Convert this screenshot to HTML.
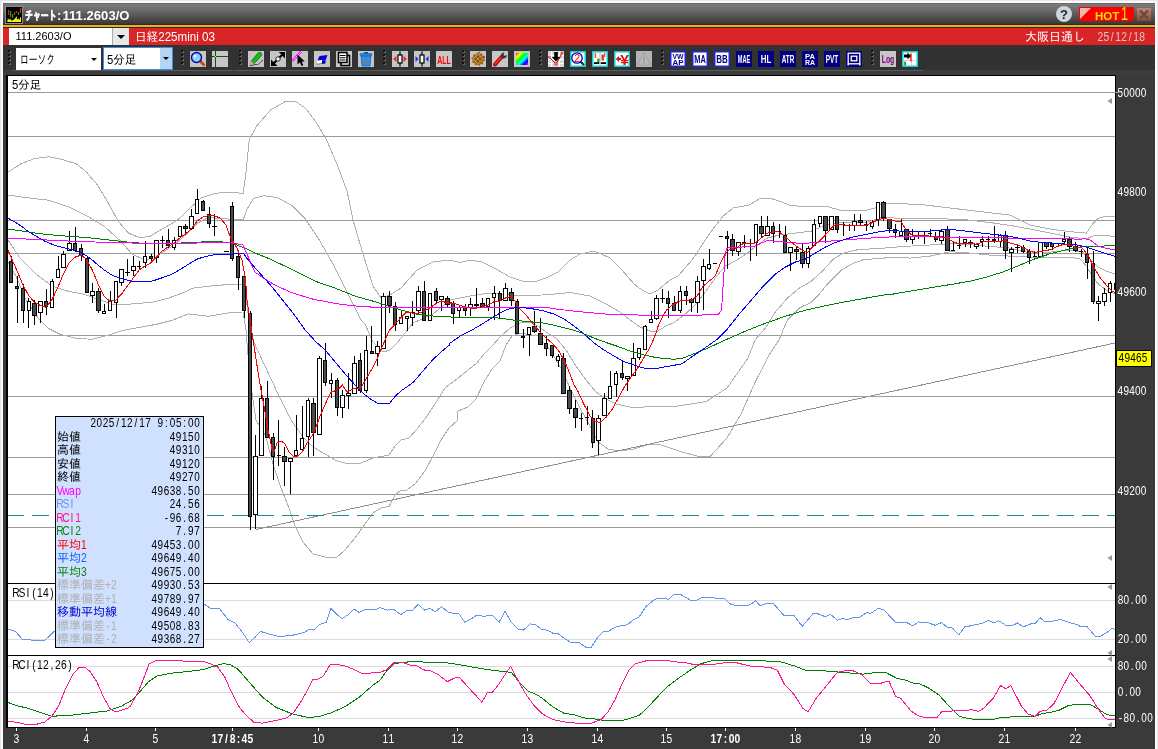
<!DOCTYPE html>
<html lang="ja"><head><meta charset="utf-8"><title>チャート:111.2603/O</title>
<style>html,body{margin:0;padding:0;background:#3a3a3a;overflow:hidden}svg{display:block}svg text{font-family:'Liberation Sans','IPAGothic',sans-serif}</style></head>
<body>
<svg width="1158" height="749" viewBox="0 0 1158 749">
<rect x="0" y="0" width="1158" height="749" fill="#e6e6e6" />
<rect x="1" y="1" width="1156" height="748" fill="#fafafa" />
<rect x="3" y="3" width="1152" height="746" fill="#3a3a3a" />
<rect x="3" y="3" width="1152" height="1" fill="#6a6a6a" />
<defs><linearGradient id="tg" x1="0" y1="0" x2="0" y2="1"><stop offset="0" stop-color="#7b7b7b"/><stop offset="0.3" stop-color="#6c6b69"/><stop offset="1" stop-color="#3a3836"/></linearGradient><linearGradient id="xg" x1="0" y1="0" x2="0" y2="1"><stop offset="0" stop-color="#c08870"/><stop offset="1" stop-color="#8a4a38"/></linearGradient><linearGradient id="rb" x1="0" y1="0" x2="1" y2="1"><stop offset="0" stop-color="#f00"/><stop offset="0.2" stop-color="#ff0"/><stop offset="0.4" stop-color="#0f0"/><stop offset="0.6" stop-color="#0ff"/><stop offset="0.8" stop-color="#00f"/><stop offset="1" stop-color="#f0f"/></linearGradient></defs>
<rect x="3" y="4" width="1152" height="20" fill="url(#tg)" />
<rect x="3" y="24" width="1152" height="1" fill="#2a2a30" />
<rect x="3" y="25" width="1152" height="2" fill="#f5ae12" />
<rect x="5" y="6" width="18" height="18" fill="#8c8c8c" />
<rect x="6" y="7" width="16" height="16" fill="#000" />
<rect x="8" y="10" width="1.2" height="5" fill="#e82020" />
<rect x="10" y="11" width="1.2" height="6" fill="#18a818" />
<rect x="12" y="14" width="1.2" height="4" fill="#18a818" />
<rect x="14" y="12" width="1.2" height="3" fill="#e82020" />
<rect x="16" y="11" width="1.2" height="2" fill="#e82020" />
<rect x="18" y="12" width="1.2" height="3" fill="#18a818" />
<rect x="20" y="8" width="1.2" height="5" fill="#e82020" />
<polygon points="7,22 7.5,20.5 8,18 9,20 10,18.5 11,20 12,20.8 13,20 14,19.5 15,18.5 16,17 16.6,16 17,19 18,19.5 18.6,18 19.3,20.5 20.3,17 21,17.5 21,22" fill="#f4f020"/>
<text x="25" y="19.6" fill="#fff" font-size="12.5" font-weight="bold" text-anchor="start" textLength="31.5" lengthAdjust="spacingAndGlyphs" stroke="#fff" stroke-width="0.5">チャート</text>
<text x="57" y="19.6" fill="#fff" font-size="13" font-weight="bold" text-anchor="start" >:</text>
<text x="62.5" y="20" fill="#fff" font-size="13.5" font-weight="bold" text-anchor="start" textLength="67" lengthAdjust="spacingAndGlyphs">111.2603/O</text>
<circle cx="1064" cy="14" r="8" fill="#d0d4dc"/>
<text x="1064" y="19" fill="#223" font-size="13" font-weight="bold" text-anchor="middle" >?</text>
<rect x="1079" y="7" width="55" height="14" fill="#ff0000" />
<polygon points="1080,8 1091,8 1080,19" fill="#f4b8a8"/>
<text x="1095" y="19.5" fill="#f0e000" font-size="11.5" font-weight="bold" text-anchor="start" >HOT</text>
<text x="1121" y="20.3" fill="#f0e000" font-size="19" font-weight="normal" text-anchor="start" textLength="7" lengthAdjust="spacingAndGlyphs">1</text>
<rect x="1137" y="8" width="14" height="13" fill="url(#xg)" />
<path d="M1140,10.5 L1148,18.5 M1148,10.5 L1140,18.5" stroke="#5a4a44" stroke-width="2.2" fill="none"/>
<rect x="3" y="27" width="1152" height="1" fill="#302828" />
<rect x="3" y="28" width="1152" height="17" fill="#d92525" />
<rect x="9" y="28" width="104" height="17" fill="#fff" />
<rect x="113" y="28" width="16" height="17" fill="#e8e8e8" />
<rect x="112" y="28" width="1" height="17" fill="#aaa" />
<polygon points="117,35 125,35 121,39" fill="#000"/>
<text x="15.5" y="40" fill="#000" font-size="11.5" font-weight="normal" text-anchor="start" textLength="56" lengthAdjust="spacingAndGlyphs">111.2603/O</text>
<text x="135" y="40.5" fill="#fff" font-size="12" font-weight="normal" text-anchor="start" textLength="80" lengthAdjust="spacingAndGlyphs">日経225mini 03</text>
<text x="1085" y="40.5" fill="#fff" font-size="12" font-weight="normal" text-anchor="end" textLength="60" lengthAdjust="spacingAndGlyphs">大阪日通し</text>
<text transform="translate(1097.4,40.5) scale(0.86,1)" x="3.46 10.38 17.30 24.22 31.13 38.05 44.97 51.89" y="0" fill="#e0c4c4" font-size="12" font-weight="normal" text-anchor="middle">25/12/18</text>
<rect x="3" y="45" width="1152" height="25" fill="#323232" />
<rect x="3" y="70" width="1152" height="5" fill="#3c3c3c" />
<rect x="12" y="70" width="221" height="1" fill="#5a5a5a" />
<rect x="235" y="70" width="688" height="1" fill="#5a5a5a" />
<rect x="8" y="50" width="2" height="2" fill="#0c0c0c" />
<rect x="9" y="51" width="2" height="2" fill="#666" />
<rect x="8" y="50" width="2" height="2" fill="#111" />
<rect x="8" y="54" width="2" height="2" fill="#0c0c0c" />
<rect x="9" y="55" width="2" height="2" fill="#666" />
<rect x="8" y="54" width="2" height="2" fill="#111" />
<rect x="8" y="58" width="2" height="2" fill="#0c0c0c" />
<rect x="9" y="59" width="2" height="2" fill="#666" />
<rect x="8" y="58" width="2" height="2" fill="#111" />
<rect x="8" y="62" width="2" height="2" fill="#0c0c0c" />
<rect x="9" y="63" width="2" height="2" fill="#666" />
<rect x="8" y="62" width="2" height="2" fill="#111" />
<rect x="181" y="50" width="2" height="2" fill="#0c0c0c" />
<rect x="182" y="51" width="2" height="2" fill="#666" />
<rect x="181" y="50" width="2" height="2" fill="#111" />
<rect x="181" y="54" width="2" height="2" fill="#0c0c0c" />
<rect x="182" y="55" width="2" height="2" fill="#666" />
<rect x="181" y="54" width="2" height="2" fill="#111" />
<rect x="181" y="58" width="2" height="2" fill="#0c0c0c" />
<rect x="182" y="59" width="2" height="2" fill="#666" />
<rect x="181" y="58" width="2" height="2" fill="#111" />
<rect x="181" y="62" width="2" height="2" fill="#0c0c0c" />
<rect x="182" y="63" width="2" height="2" fill="#666" />
<rect x="181" y="62" width="2" height="2" fill="#111" />
<rect x="239" y="50" width="2" height="2" fill="#0c0c0c" />
<rect x="240" y="51" width="2" height="2" fill="#666" />
<rect x="239" y="50" width="2" height="2" fill="#111" />
<rect x="239" y="54" width="2" height="2" fill="#0c0c0c" />
<rect x="240" y="55" width="2" height="2" fill="#666" />
<rect x="239" y="54" width="2" height="2" fill="#111" />
<rect x="239" y="58" width="2" height="2" fill="#0c0c0c" />
<rect x="240" y="59" width="2" height="2" fill="#666" />
<rect x="239" y="58" width="2" height="2" fill="#111" />
<rect x="239" y="62" width="2" height="2" fill="#0c0c0c" />
<rect x="240" y="63" width="2" height="2" fill="#666" />
<rect x="239" y="62" width="2" height="2" fill="#111" />
<rect x="383" y="50" width="2" height="2" fill="#0c0c0c" />
<rect x="384" y="51" width="2" height="2" fill="#666" />
<rect x="383" y="50" width="2" height="2" fill="#111" />
<rect x="383" y="54" width="2" height="2" fill="#0c0c0c" />
<rect x="384" y="55" width="2" height="2" fill="#666" />
<rect x="383" y="54" width="2" height="2" fill="#111" />
<rect x="383" y="58" width="2" height="2" fill="#0c0c0c" />
<rect x="384" y="59" width="2" height="2" fill="#666" />
<rect x="383" y="58" width="2" height="2" fill="#111" />
<rect x="383" y="62" width="2" height="2" fill="#0c0c0c" />
<rect x="384" y="63" width="2" height="2" fill="#666" />
<rect x="383" y="62" width="2" height="2" fill="#111" />
<rect x="462" y="50" width="2" height="2" fill="#0c0c0c" />
<rect x="463" y="51" width="2" height="2" fill="#666" />
<rect x="462" y="50" width="2" height="2" fill="#111" />
<rect x="462" y="54" width="2" height="2" fill="#0c0c0c" />
<rect x="463" y="55" width="2" height="2" fill="#666" />
<rect x="462" y="54" width="2" height="2" fill="#111" />
<rect x="462" y="58" width="2" height="2" fill="#0c0c0c" />
<rect x="463" y="59" width="2" height="2" fill="#666" />
<rect x="462" y="58" width="2" height="2" fill="#111" />
<rect x="462" y="62" width="2" height="2" fill="#0c0c0c" />
<rect x="463" y="63" width="2" height="2" fill="#666" />
<rect x="462" y="62" width="2" height="2" fill="#111" />
<rect x="539" y="50" width="2" height="2" fill="#0c0c0c" />
<rect x="540" y="51" width="2" height="2" fill="#666" />
<rect x="539" y="50" width="2" height="2" fill="#111" />
<rect x="539" y="54" width="2" height="2" fill="#0c0c0c" />
<rect x="540" y="55" width="2" height="2" fill="#666" />
<rect x="539" y="54" width="2" height="2" fill="#111" />
<rect x="539" y="58" width="2" height="2" fill="#0c0c0c" />
<rect x="540" y="59" width="2" height="2" fill="#666" />
<rect x="539" y="58" width="2" height="2" fill="#111" />
<rect x="539" y="62" width="2" height="2" fill="#0c0c0c" />
<rect x="540" y="63" width="2" height="2" fill="#666" />
<rect x="539" y="62" width="2" height="2" fill="#111" />
<rect x="661" y="50" width="2" height="2" fill="#0c0c0c" />
<rect x="662" y="51" width="2" height="2" fill="#666" />
<rect x="661" y="50" width="2" height="2" fill="#111" />
<rect x="661" y="54" width="2" height="2" fill="#0c0c0c" />
<rect x="662" y="55" width="2" height="2" fill="#666" />
<rect x="661" y="54" width="2" height="2" fill="#111" />
<rect x="661" y="58" width="2" height="2" fill="#0c0c0c" />
<rect x="662" y="59" width="2" height="2" fill="#666" />
<rect x="661" y="58" width="2" height="2" fill="#111" />
<rect x="661" y="62" width="2" height="2" fill="#0c0c0c" />
<rect x="662" y="63" width="2" height="2" fill="#666" />
<rect x="661" y="62" width="2" height="2" fill="#111" />
<rect x="871" y="50" width="2" height="2" fill="#0c0c0c" />
<rect x="872" y="51" width="2" height="2" fill="#666" />
<rect x="871" y="50" width="2" height="2" fill="#111" />
<rect x="871" y="54" width="2" height="2" fill="#0c0c0c" />
<rect x="872" y="55" width="2" height="2" fill="#666" />
<rect x="871" y="54" width="2" height="2" fill="#111" />
<rect x="871" y="58" width="2" height="2" fill="#0c0c0c" />
<rect x="872" y="59" width="2" height="2" fill="#666" />
<rect x="871" y="58" width="2" height="2" fill="#111" />
<rect x="871" y="62" width="2" height="2" fill="#0c0c0c" />
<rect x="872" y="63" width="2" height="2" fill="#666" />
<rect x="871" y="62" width="2" height="2" fill="#111" />
<rect x="16" y="48" width="85" height="22" fill="#fff" />
<text x="20" y="64" fill="#000" font-size="12.5" font-weight="normal" text-anchor="start" textLength="35" lengthAdjust="spacingAndGlyphs">ローソク</text>
<polygon points="91,58 97,58 94,61" fill="#000"/>
<rect x="103" y="47" width="70" height="23" fill="#3a8ee6" />
<rect x="104" y="48" width="56" height="21" fill="#fff" />
<rect x="160" y="48" width="12" height="21" fill="#b8d4f4" />
<text x="107" y="64" fill="#000" font-size="12.5" font-weight="normal" text-anchor="start" textLength="29" lengthAdjust="spacingAndGlyphs">5分足</text>
<polygon points="163,57 169,57 166,60" fill="#000"/>
<g transform="translate(190,51)">
<rect x="0" y="0" width="16" height="16" fill="#c6c6c6"/>
<line x1="9.5" y1="9.5" x2="14.5" y2="14.5" stroke="#c84808" stroke-width="2.6"/><circle cx="6.5" cy="6.5" r="5" fill="#8cd0ff" stroke="#0000b0" stroke-width="1.4"/><circle cx="5" cy="5" r="1.6" fill="#dff4ff"/>
</g>
<g transform="translate(212,51)">
<rect x="0" y="0" width="16" height="16" fill="#c6c6c6"/>
<line x1="3.5" y1="0" x2="3.5" y2="16" stroke="#0a5a0a" stroke-width="1"/><line x1="0" y1="5.5" x2="16" y2="5.5" stroke="#0a5a0a" stroke-width="1"/><rect x="3" y="5" width="1" height="1" fill="#eee"/>
</g>
<g transform="translate(248,51)">
<rect x="0" y="0" width="16" height="16" fill="#c6c6c6"/>
<path d="M1.5,14.5 C4,15.5 6,13 8.5,13.5 C11,14 12,11 15,9" stroke="#444" stroke-width="1" fill="none"/><polygon points="3.2,10.2 10.5,1.5 13,1.8 13.8,4.3 6.2,12.6" fill="#10c010" stroke="#0a700a" stroke-width="0.8"/><polygon points="3.2,10.2 6.2,12.6 2,13.3" fill="#f4b8b8" stroke="#a06060" stroke-width="0.5"/>
</g>
<g transform="translate(270,51)">
<rect x="0" y="0" width="16" height="16" fill="#c6c6c6"/>
<path d="M2.5,13.5 L13.5,2.5" stroke="#000" stroke-width="2"/><polygon points="8.5,1 15,1 15,7.5 12.8,5.2 11,3" fill="#000"/><polygon points="1,8.5 1,15 7.5,15" fill="#000"/><circle cx="8" cy="8" r="2.2" fill="#fff" stroke="#000" stroke-width="0.8"/>
</g>
<g transform="translate(292,51)">
<rect x="0" y="0" width="16" height="16" fill="#c6c6c6"/>
<path d="M0.5,10 L9,0.5" stroke="#ff00ff" stroke-width="2.4"/><path d="M1,9.6 L8.6,1" stroke="#fff" stroke-width="0.7"/><polygon points="5.5,3.5 5.5,13.5 7.8,11.3 9.6,15 11.3,14.2 9.6,10.6 12.8,10.4" fill="#000"/>
</g>
<g transform="translate(314,51)">
<rect x="0" y="0" width="16" height="16" fill="#c6c6c6"/>
<polygon points="5.5,5 13.5,4 11.5,9.5 3,10.5" fill="#0000d0"/><polygon points="3,10.5 11.5,9.5 11.5,12.5 3,13.5" fill="#0000a0"/><polygon points="3,9.5 8,8.9 8,12 3,12.7" fill="#fff"/><polygon points="3,12.2 8,11.6 8,12.6 3,13.4" fill="#bbb"/>
</g>
<g transform="translate(336,51)">
<rect x="0" y="0" width="16" height="16" fill="#c6c6c6"/>
<rect x="5" y="4.5" width="8.5" height="10" fill="#fff" stroke="#000" stroke-width="1.6"/><rect x="2.5" y="1.5" width="8.5" height="10" fill="#fff" stroke="#000" stroke-width="1.6"/><path d="M4,4.5 H9.5 M4,6.8 H9.5 M4,9 H9.5" stroke="#000" stroke-width="1.1"/>
</g>
<g transform="translate(358,51)">
<rect x="0" y="0" width="16" height="16" fill="#c6c6c6"/>
<rect x="6" y="1" width="4" height="2" fill="#0a58b0"/><rect x="2" y="2.6" width="12" height="2.2" rx="1" fill="#1a8cf0" stroke="#0a58b0" stroke-width="0.6"/><polygon points="3,5.2 13,5.2 12,15 4,15" fill="#1e96ff" stroke="#0a58b0" stroke-width="0.7"/><path d="M5.7,6.5 L6,13.5 M8,6.5 V13.5 M10.3,6.5 L10,13.5" stroke="#8a7a6a" stroke-width="1"/>
</g>
<g transform="translate(392,51)">
<rect x="0" y="0" width="16" height="16" fill="#c6c6c6"/>
<line x1="8" y1="0.5" x2="8" y2="15.5" stroke="#000" stroke-width="1.2"/><rect x="6" y="4" width="4" height="8" fill="#fff" stroke="#000" stroke-width="1.2"/><polygon points="1,8 4.5,5 4.5,11" fill="#ff2020"/><polygon points="15,8 11.5,5 11.5,11" fill="#ff2020"/>
</g>
<g transform="translate(414,51)">
<rect x="0" y="0" width="16" height="16" fill="#c6c6c6"/>
<line x1="8" y1="0.5" x2="8" y2="15.5" stroke="#000" stroke-width="1.2"/><rect x="6" y="4" width="4" height="8" fill="#fff" stroke="#000" stroke-width="1.2"/><polygon points="4.5,8 1.5,5 1.5,11" fill="#2030ff"/><polygon points="11.5,8 14.5,5 14.5,11" fill="#2030ff"/>
</g>
<g transform="translate(436,51)">
<rect x="0" y="0" width="16" height="16" fill="#c6c6c6"/>
<text x="8" y="12.5" font-size="11.5" fill="#ff0000" font-weight="bold" text-anchor="middle" textLength="13.5" lengthAdjust="spacingAndGlyphs">ALL</text>
</g>
<g transform="translate(470,51)">
<rect x="0" y="0" width="16" height="16" fill="#c6c6c6"/>
<polygon points="8,1 9.5,3 12,2 12.3,4.6 15,5 13.8,7.4 15.5,9.5 13,10.6 13.2,13.2 10.6,13 9.2,15.2 7.4,13.4 5,14.6 4.4,12 1.8,11.6 2.8,9.2 1,7.2 3.2,6 3,3.4 5.6,3.6" fill="#a86418"/><polygon points="8,3.2 12.6,8 8,12.8 3.4,8" fill="#705030" stroke="#e0b020" stroke-width="1"/><path d="M5.7,5.6 L10.3,10.4 M10.3,5.6 L5.7,10.4" stroke="#e0b020" stroke-width="0.8"/><path d="M9,2 L10,0.5 M13,6 L15,6.4" stroke="#445" stroke-width="1"/>
</g>
<g transform="translate(492,51)">
<rect x="0" y="0" width="16" height="16" fill="#c6c6c6"/>
<path d="M3,13.5 L9.5,6" stroke="#b00000" stroke-width="4" stroke-linecap="round"/><path d="M3.2,13 L9,6.4" stroke="#ff3030" stroke-width="1.6" stroke-linecap="round"/><path d="M9.2,6.4 C8.2,3.6 10,1.4 12.4,1.2 L11.4,3.6 L13,5 L15,3.8 C15.2,6.4 12.6,8.2 10.4,7.4 Z" fill="#333"/>
</g>
<g transform="translate(514,51)">
<rect x="0" y="0" width="16" height="16" fill="#c6c6c6"/>
<rect x="2" y="2" width="12" height="12" fill="url(#rb)"/>
</g>
<g transform="translate(548,51)">
<rect x="0" y="0" width="16" height="16" fill="#d8d8d8"/>
<path d="M0,4.5H16M0,8.5H16M0,12.5H16M3.5,0V16M7.5,0V16M11.5,0V16" stroke="#fff" stroke-width="1"/><path d="M1,6 L4.5,9.5 L8,13 L11,8 L14,2" stroke="#c00000" stroke-width="1" fill="none"/><polygon points="6.2,1 9.8,1 9.8,6 12.2,6 8,10.4 3.8,6 6.2,6" fill="#000"/><circle cx="8" cy="13" r="1.3" fill="#fff" stroke="#e00000" stroke-width="0.9"/><circle cx="1.3" cy="6" r="1" fill="#fff" stroke="#c00000" stroke-width="0.7"/><circle cx="14" cy="2" r="1" fill="#fff" stroke="#c00000" stroke-width="0.7"/>
</g>
<g transform="translate(570,51)">
<rect x="0" y="0" width="16" height="16" fill="#10d0d0"/>
<rect x="1.5" y="1.5" width="13" height="13" fill="#fff"/><line x1="10.5" y1="10.5" x2="14" y2="14" stroke="#103810" stroke-width="2.2"/><circle cx="7" cy="7" r="5.2" fill="#fff" stroke="#0000c0" stroke-width="1.3"/><text x="7.2" y="11" font-size="10.5" fill="#ff0000" font-weight="normal" text-anchor="middle" >2</text>
</g>
<g transform="translate(592,51)">
<rect x="0" y="0" width="16" height="16" fill="#10d0d0"/>
<rect x="1.5" y="1.5" width="13" height="13" fill="#fff"/><rect x="2.6" y="2" width="1.6" height="5" fill="#ff5050"/><rect x="12" y="2" width="1.4" height="4" fill="#ff5050"/><rect x="9.6" y="3.5" width="2.2" height="6" fill="#e82020"/><rect x="5.3" y="7.5" width="2.2" height="3.6" fill="#10a020"/><line x1="8" y1="1.5" x2="8" y2="14.5" stroke="#999" stroke-width="0.8"/><rect x="2" y="11.2" width="5.2" height="1.8" fill="#000"/><rect x="8.8" y="11.2" width="5.2" height="1.8" fill="#000"/>
</g>
<g transform="translate(614,51)">
<rect x="0" y="0" width="16" height="16" fill="#10d0d0"/>
<rect x="1.5" y="1.5" width="13" height="13" fill="#fff"/><polygon points="1.8,8 5,5 5,7 7,7 7,9 5,9 5,11" fill="#e01010"/><text x="10.6" y="14" font-size="15.5" fill="#e01010" font-weight="bold" text-anchor="middle" >¥</text>
</g>
<g transform="translate(636,51)">
<rect x="0" y="0" width="16" height="16" fill="#b4b4b4"/>
<polygon points="8,1.5 15,14 1,14" fill="#b8b8b8" stroke="#a0a0a0" stroke-width="1"/><rect x="7.3" y="5.5" width="1.5" height="5" fill="#989898"/><rect x="7.3" y="11.3" width="1.5" height="1.5" fill="#989898"/>
</g>
<g transform="translate(670,51)">
<rect x="0.75" y="0.75" width="14.5" height="14.5" fill="#fff" stroke="#2424e0" stroke-width="1.5"/><text x="8" y="7.8" font-size="7.8" fill="#000080" font-weight="bold" text-anchor="middle" textLength="11" lengthAdjust="spacingAndGlyphs">VW</text><text x="8" y="14.2" font-size="7.8" fill="#000080" font-weight="bold" text-anchor="middle" textLength="11" lengthAdjust="spacingAndGlyphs">AP</text>
</g>
<g transform="translate(692,51)">
<rect x="0.75" y="0.75" width="14.5" height="14.5" fill="#fff" stroke="#2424e0" stroke-width="1.5"/><text x="8" y="12" font-size="10.5" fill="#000080" font-weight="bold" text-anchor="middle" textLength="11.5" lengthAdjust="spacingAndGlyphs">MA</text>
</g>
<g transform="translate(714,51)">
<rect x="0.75" y="0.75" width="14.5" height="14.5" fill="#fff" stroke="#2424e0" stroke-width="1.5"/><text x="8" y="12" font-size="10.5" fill="#000080" font-weight="bold" text-anchor="middle" textLength="11.5" lengthAdjust="spacingAndGlyphs">BB</text>
</g>
<g transform="translate(736,51)">
<rect x="0" y="0" width="16" height="16" fill="#000080"/>
<text x="8" y="12" font-size="10.5" fill="#fff" font-weight="bold" text-anchor="middle" textLength="12.5" lengthAdjust="spacingAndGlyphs">MAE</text>
</g>
<g transform="translate(758,51)">
<rect x="0" y="0" width="16" height="16" fill="#000080"/>
<text x="8" y="12" font-size="10.5" fill="#fff" font-weight="bold" text-anchor="middle" textLength="10.5" lengthAdjust="spacingAndGlyphs">HL</text>
</g>
<g transform="translate(780,51)">
<rect x="0" y="0" width="16" height="16" fill="#000080"/>
<text x="8" y="12" font-size="10.5" fill="#fff" font-weight="bold" text-anchor="middle" textLength="12.5" lengthAdjust="spacingAndGlyphs">ATR</text>
</g>
<g transform="translate(802,51)">
<rect x="0" y="0" width="16" height="16" fill="#000080"/>
<text x="8" y="7.8" font-size="7.8" fill="#fff" font-weight="bold" text-anchor="middle" textLength="10" lengthAdjust="spacingAndGlyphs">PA</text><text x="8" y="14.4" font-size="7.8" fill="#fff" font-weight="bold" text-anchor="middle" textLength="10" lengthAdjust="spacingAndGlyphs">RA</text>
</g>
<g transform="translate(824,51)">
<rect x="0" y="0" width="16" height="16" fill="#000080"/>
<text x="8" y="12" font-size="10.5" fill="#fff" font-weight="bold" text-anchor="middle" textLength="12.5" lengthAdjust="spacingAndGlyphs">PVT</text>
</g>
<g transform="translate(846,51)">
<rect x="0" y="0" width="16" height="16" fill="#000080"/>
<rect x="2.2" y="2.2" width="11.6" height="10.6" fill="none" stroke="#fff" stroke-width="1.3"/><rect x="5.2" y="5.2" width="5.6" height="4.6" fill="none" stroke="#fff" stroke-width="1.3"/><path d="M2.2,12.5V14.6M13.8,12.5V14.6" stroke="#fff" stroke-width="1.3"/>
</g>
<g transform="translate(880,51)">
<rect x="0" y="0" width="16" height="16" fill="#c6c6c6"/>
<text x="8" y="11.5" font-size="10.5" fill="#800080" font-weight="bold" text-anchor="middle" textLength="12.5" lengthAdjust="spacingAndGlyphs">Log</text>
</g>
<g transform="translate(902,51)">
<rect x="0" y="0" width="16" height="16" fill="#10d0d0"/>
<rect x="1.5" y="1.5" width="13" height="13" fill="#fff"/><path d="M1.5,9.5H14.5M9.5,1.5V14.5" stroke="#c8c8c8" stroke-width="0.8"/><rect x="8" y="2.5" width="1.8" height="8" fill="#ff4040"/><rect x="2.2" y="10.5" width="1.8" height="4" fill="#10a020"/><polygon points="2,3.6 5.5,3.6 5.5,1.6 9,5 5.5,8.4 5.5,6.4 2,6.4" fill="#000"/>
</g>
<rect x="6" y="75" width="1110" height="653" fill="#000" />
<rect x="8" y="76" width="1107" height="507" fill="#fff" />
<rect x="8" y="584" width="1107" height="71" fill="#fff" />
<rect x="8" y="656" width="1107" height="71" fill="#fff" />
<rect x="8" y="92" width="1110" height="1" fill="#9a9a9a" />
<rect x="8" y="136" width="1107" height="1" fill="#9a9a9a" />
<rect x="8" y="220" width="1107" height="1" fill="#9a9a9a" />
<rect x="8" y="253" width="1107" height="1" fill="#9a9a9a" />
<rect x="8" y="335" width="1107" height="1" fill="#9a9a9a" />
<rect x="8" y="396" width="1107" height="1" fill="#9a9a9a" />
<rect x="8" y="457" width="1107" height="1" fill="#9a9a9a" />
<rect x="8" y="494" width="1107" height="1" fill="#9a9a9a" />
<rect x="8" y="527" width="1107" height="1" fill="#9a9a9a" />
<rect x="8" y="600" width="1107" height="1" fill="#dcdcdc" />
<rect x="8" y="639" width="1107" height="1" fill="#dcdcdc" />
<rect x="8" y="666" width="1107" height="1" fill="#dcdcdc" />
<rect x="8" y="692" width="1107" height="1" fill="#dcdcdc" />
<rect x="8" y="718" width="1107" height="1" fill="#dcdcdc" />
<text transform="translate(1117.5,96.5) scale(0.8,1)" x="3.61 10.84 18.06 25.29 32.51" y="0" fill="#fff" font-size="12.5" font-weight="normal" text-anchor="middle">50000</text>
<text transform="translate(1117.5,195.5) scale(0.8,1)" x="3.61 10.84 18.06 25.29 32.51" y="0" fill="#fff" font-size="12.5" font-weight="normal" text-anchor="middle">49800</text>
<text transform="translate(1117.5,295.5) scale(0.8,1)" x="3.61 10.84 18.06 25.29 32.51" y="0" fill="#fff" font-size="12.5" font-weight="normal" text-anchor="middle">49600</text>
<text transform="translate(1117.5,394.5) scale(0.8,1)" x="3.61 10.84 18.06 25.29 32.51" y="0" fill="#fff" font-size="12.5" font-weight="normal" text-anchor="middle">49400</text>
<text transform="translate(1117.5,494.5) scale(0.8,1)" x="3.61 10.84 18.06 25.29 32.51" y="0" fill="#fff" font-size="12.5" font-weight="normal" text-anchor="middle">49200</text>
<rect x="1116" y="350" width="36" height="17" fill="#000" />
<rect x="1117" y="351" width="34" height="15" fill="#ffff00" />
<text transform="translate(1118.5,362.3) scale(0.8,1)" x="3.61 10.84 18.06 25.29 32.51" y="0" fill="#000" font-size="12.5" font-weight="normal" text-anchor="middle">49465</text>
<text transform="translate(1117.5,603.5) scale(0.8,1)" x="3.69 11.06 18.44 25.81 33.19" y="0" fill="#fff" font-size="12.5" font-weight="normal" text-anchor="middle">80.00</text>
<text transform="translate(1117.5,642.5) scale(0.8,1)" x="3.69 11.06 18.44 25.81 33.19" y="0" fill="#fff" font-size="12.5" font-weight="normal" text-anchor="middle">20.00</text>
<text transform="translate(1117.5,669.5) scale(0.8,1)" x="3.69 11.06 18.44 25.81 33.19" y="0" fill="#fff" font-size="12.5" font-weight="normal" text-anchor="middle">80.00</text>
<text transform="translate(1117.5,695.5) scale(0.8,1)" x="3.69 11.06 18.44 25.81" y="0" fill="#fff" font-size="12.5" font-weight="normal" text-anchor="middle">0.00</text>
<text transform="translate(1117.5,721.5) scale(0.8,1)" x="3.69 11.06 18.44 25.81 33.19 40.56" y="0" fill="#fff" font-size="12.5" font-weight="normal" text-anchor="middle">-80.00</text>
<polygon points="1107.3,101 1112,98 1112,104" fill="#9a9a9a"/>
<polygon points="1107.3,558 1112,555 1112,561" fill="#9a9a9a"/>
<polygon points="1107.3,587 1112,584 1112,590" fill="#9a9a9a"/>
<polygon points="1107.3,653 1112,650 1112,656" fill="#9a9a9a"/>
<polygon points="1107.3,659 1112,656 1112,662" fill="#9a9a9a"/>
<polygon points="1107.3,725 1112,722 1112,728" fill="#9a9a9a"/>
<text x="12" y="89" fill="#000" font-size="12" font-weight="normal" text-anchor="start" textLength="29" lengthAdjust="spacingAndGlyphs">5分足</text>
<text transform="translate(13,597) scale(0.86,1)" x="3.49 10.47 17.44 24.42 31.40 38.37 45.35" y="0" fill="#000" font-size="12" font-weight="normal" text-anchor="middle">RSI(14)</text>
<text transform="translate(13,669) scale(0.86,1)" x="3.49 10.47 17.44 24.42 31.40 38.37 45.35 52.33 59.30 66.28" y="0" fill="#000" font-size="12" font-weight="normal" text-anchor="middle">RCI(12,26)</text>
<rect x="16" y="728" width="1" height="3" fill="#fff" />
<text transform="translate(13.5,743) scale(0.86,1)" x="3.49" y="0" fill="#fff" font-size="12" font-weight="normal" text-anchor="middle">3</text>
<rect x="86" y="728" width="1" height="3" fill="#fff" />
<text transform="translate(83.5,743) scale(0.86,1)" x="3.49" y="0" fill="#fff" font-size="12" font-weight="normal" text-anchor="middle">4</text>
<rect x="155" y="728" width="1" height="3" fill="#fff" />
<text transform="translate(152.5,743) scale(0.86,1)" x="3.49" y="0" fill="#fff" font-size="12" font-weight="normal" text-anchor="middle">5</text>
<rect x="232" y="728" width="1" height="3" fill="#fff" />
<text transform="translate(211.5,743) scale(0.86,1)" x="3.49 10.47 17.44 24.42 31.40 38.37 45.35" y="0" fill="#fff" font-size="12" font-weight="bold" text-anchor="middle">17/8:45</text>
<rect x="318" y="728" width="1" height="3" fill="#fff" />
<text transform="translate(312.5,743) scale(0.86,1)" x="3.49 10.47" y="0" fill="#fff" font-size="12" font-weight="normal" text-anchor="middle">10</text>
<rect x="388" y="728" width="1" height="3" fill="#fff" />
<text transform="translate(382.5,743) scale(0.86,1)" x="3.49 10.47" y="0" fill="#fff" font-size="12" font-weight="normal" text-anchor="middle">11</text>
<rect x="457" y="728" width="1" height="3" fill="#fff" />
<text transform="translate(451.5,743) scale(0.86,1)" x="3.49 10.47" y="0" fill="#fff" font-size="12" font-weight="normal" text-anchor="middle">12</text>
<rect x="527" y="728" width="1" height="3" fill="#fff" />
<text transform="translate(521.5,743) scale(0.86,1)" x="3.49 10.47" y="0" fill="#fff" font-size="12" font-weight="normal" text-anchor="middle">13</text>
<rect x="597" y="728" width="1" height="3" fill="#fff" />
<text transform="translate(591.5,743) scale(0.86,1)" x="3.49 10.47" y="0" fill="#fff" font-size="12" font-weight="normal" text-anchor="middle">14</text>
<rect x="666" y="728" width="1" height="3" fill="#fff" />
<text transform="translate(660.5,743) scale(0.86,1)" x="3.49 10.47" y="0" fill="#fff" font-size="12" font-weight="normal" text-anchor="middle">15</text>
<rect x="725" y="728" width="1" height="3" fill="#fff" />
<text transform="translate(710.5,743) scale(0.86,1)" x="3.49 10.47 17.44 24.42 31.40" y="0" fill="#fff" font-size="12" font-weight="bold" text-anchor="middle">17:00</text>
<rect x="795" y="728" width="1" height="3" fill="#fff" />
<text transform="translate(789.5,743) scale(0.86,1)" x="3.49 10.47" y="0" fill="#fff" font-size="12" font-weight="normal" text-anchor="middle">18</text>
<rect x="865" y="728" width="1" height="3" fill="#fff" />
<text transform="translate(859.5,743) scale(0.86,1)" x="3.49 10.47" y="0" fill="#fff" font-size="12" font-weight="normal" text-anchor="middle">19</text>
<rect x="934" y="728" width="1" height="3" fill="#fff" />
<text transform="translate(928.5,743) scale(0.86,1)" x="3.49 10.47" y="0" fill="#fff" font-size="12" font-weight="normal" text-anchor="middle">20</text>
<rect x="1004" y="728" width="1" height="3" fill="#fff" />
<text transform="translate(998.5,743) scale(0.86,1)" x="3.49 10.47" y="0" fill="#fff" font-size="12" font-weight="normal" text-anchor="middle">21</text>
<rect x="1075" y="728" width="1" height="3" fill="#fff" />
<text transform="translate(1069.5,743) scale(0.86,1)" x="3.49 10.47" y="0" fill="#fff" font-size="12" font-weight="normal" text-anchor="middle">22</text>
<clipPath id="cm"><rect x="8" y="76" width="1107" height="507"/></clipPath>
<clipPath id="c2"><rect x="8" y="584" width="1107" height="71"/></clipPath>
<clipPath id="c3"><rect x="8" y="656" width="1107" height="71"/></clipPath>
<g clip-path="url(#cm)">
<polyline points="7.6,172.4 20.8,163.8 34.7,158.5 48.6,156.8 62.5,159.6 76.4,163.8 86.8,172.4 97.2,184.6 107.6,201.9 118.1,221.0 128.5,233.2 138.9,237.4 149.3,236.7 159.7,230.4 170.1,224.5 180.6,217.6 191.0,207.2 201.4,197.8 215.3,193.3 229.2,192.2 243.1,193.3 245.8,174.2 249.3,139.4 256.9,125.6 270.8,109.9 284.7,101.9 295.1,101.2 305.6,108.2 316.0,122.1 326.4,139.4 336.8,163.8 347.2,191.5 353.0,220.0 363.0,254.0 373.0,286.0 381.0,298.0 390.0,295.0 401.0,288.0 417.0,270.0 433.0,262.0 450.0,260.0 460.0,262.4 470.0,260.0 482.0,262.0 496.0,269.0 510.0,277.0 522.0,281.0 534.0,282.0 546.0,278.0 558.0,272.0 570.0,260.0 580.0,254.0 594.0,251.0 610.0,258.0 622.0,270.0 634.0,284.0 642.0,290.0 650.0,294.0 658.0,290.0 670.0,280.0 678.0,276.0 685.0,268.2 695.0,256.1 705.1,240.1 715.1,226.1 723.1,216.1 733.1,208.0 749.1,205.0 759.2,199.0 769.2,198.0 779.2,201.0 789.2,205.0 805.3,207.0 825.3,206.0 839.3,210.0 855.4,211.0 867.4,210.0 875.4,208.0 883.4,203.0 895.4,204.0 896.0,203.6 920.1,204.4 950.1,208.0 980.2,211.6 1010.2,215.1 1020.3,220.1 1030.3,225.1 1050.3,229.1 1070.4,231.7 1086.4,233.1 1092.4,224.1 1098.4,218.1 1106.4,216.1 1115.5,216.1" fill="none" stroke="#b0b0b0" stroke-width="1" shape-rendering="crispEdges"/>
<polyline points="7.6,195.0 27.8,197.8 48.6,200.2 69.4,207.2 86.8,215.8 104.2,226.2 121.5,241.9 131.9,254.0 145.8,260.3 159.7,254.0 173.6,245.3 187.5,233.2 197.9,222.8 208.3,217.6 222.2,218.6 243.1,220.0 247.2,208.9 253.5,198.5 263.9,195.7 277.8,197.8 291.7,205.4 305.6,219.3 319.4,240.1 333.3,264.4 347.2,292.2 361.1,320.0 365.0,324.0 373.0,342.0 383.0,352.0 390.0,350.0 397.0,343.0 413.0,323.0 433.0,314.0 450.0,300.0 470.0,296.0 490.0,293.0 510.0,295.0 530.0,295.7 550.0,294.5 570.0,292.5 590.0,296.0 606.0,304.0 620.0,312.0 630.0,320.0 640.0,327.0 650.0,331.0 656.0,332.0 666.0,326.0 675.0,322.0 685.0,314.2 695.0,305.2 705.1,292.2 715.1,278.2 725.1,266.2 735.1,261.1 743.1,256.1 755.2,247.1 767.2,238.1 779.2,235.1 795.2,233.1 811.3,231.1 823.3,226.1 835.3,223.1 851.4,222.1 867.4,222.1 883.4,217.1 895.4,218.1 898.0,218.1 930.1,218.1 970.2,220.1 994.2,223.1 1014.2,226.1 1030.3,229.1 1050.3,233.1 1070.4,237.1 1086.4,239.1 1092.4,236.1 1100.4,235.1 1115.5,236.5" fill="none" stroke="#b0b0b0" stroke-width="1" shape-rendering="crispEdges"/>
<polyline points="8.0,240.1 20.0,258.2 36.1,274.2 52.1,286.2 68.1,291.2 84.2,294.2 100.2,300.2 112.2,304.2 128.3,304.2 152.3,302.2 168.3,298.2 184.4,292.2 192.4,288.2 208.4,286.2 232.1,284.2 243.0,284.0 245.0,290.0 249.0,320.0 251.0,336.0 265.0,366.0 279.0,396.0 291.0,420.0 303.0,437.0 313.0,447.0 325.0,454.0 337.0,461.0 349.0,464.0 361.0,463.0 373.0,458.0 389.0,455.0 395.0,446.0 401.0,440.0 409.0,438.0 417.0,429.0 425.0,419.0 435.0,404.0 445.0,388.0 457.0,379.0 468.0,370.0 476.0,364.0 484.0,354.0 492.0,346.0 500.0,337.0 510.0,328.0 522.0,322.0 530.0,322.0 538.0,326.0 546.0,332.0 556.0,338.0 566.0,350.0 576.0,366.0 586.0,380.0 596.0,392.0 606.0,399.0 616.0,404.0 630.0,407.0 644.0,407.0 660.0,406.0 678.0,406.0 706.0,401.6 727.0,388.0 748.0,358.0 755.0,340.0 765.2,328.3 775.2,312.2 787.2,298.2 799.2,288.2 811.3,281.2 823.3,270.2 833.3,259.1 843.3,253.1 855.4,250.1 867.4,249.1 883.4,248.1 895.4,247.5 898.0,246.5 920.1,245.7 950.1,243.7 962.1,244.1 1010.2,248.1 1030.3,253.1 1050.3,252.1 1070.4,250.1 1082.4,252.1 1090.4,259.1 1098.4,267.2 1106.4,271.2 1115.5,274.2" fill="none" stroke="#b0b0b0" stroke-width="1" shape-rendering="crispEdges"/>
<polyline points="8.0,262.2 16.0,276.2 26.1,300.2 38.1,318.3 48.1,328.3 60.1,334.3 76.2,338.3 92.2,339.3 108.2,335.3 124.2,330.1 140.3,327.3 156.3,324.3 172.3,320.3 188.4,313.9 208.4,316.3 232.1,312.3 243.0,312.0 246.0,330.0 250.0,380.0 256.0,420.0 266.0,437.0 273.0,464.0 281.0,488.0 289.0,508.0 295.0,526.0 303.0,542.0 313.0,554.0 325.0,557.0 336.0,558.0 345.0,550.0 355.0,538.0 365.0,524.0 373.0,513.0 381.0,508.0 389.0,506.5 395.0,495.0 401.0,490.0 407.0,490.0 415.0,484.0 425.0,471.0 433.0,456.0 441.0,440.0 449.0,428.0 457.0,421.0 458.0,411.0 468.0,407.0 476.0,399.0 484.0,382.0 492.0,369.0 500.0,361.0 506.0,345.0 512.0,336.0 520.0,333.0 538.0,336.0 550.0,350.0 562.0,370.0 570.0,388.0 580.0,408.0 590.0,426.0 598.0,442.0 608.0,449.0 620.0,451.0 634.0,449.0 650.0,444.0 658.0,444.0 670.0,448.0 682.0,452.0 699.0,456.5 710.0,456.5 727.0,438.0 741.0,414.0 755.0,382.5 769.0,355.0 779.0,340.0 787.2,320.3 799.2,308.2 811.3,302.2 819.3,294.2 827.3,284.2 835.3,276.2 841.3,270.2 851.4,264.1 863.4,259.7 883.4,258.1 895.4,257.1 898.0,257.1 910.0,258.1 930.1,256.1 950.1,251.7 970.2,253.1 990.2,255.1 1010.2,256.1 1030.3,257.1 1050.3,257.1 1070.4,257.1 1080.4,259.1 1086.4,266.2 1092.4,276.2 1098.4,284.2 1106.4,290.2 1115.5,294.2" fill="none" stroke="#b0b0b0" stroke-width="1" shape-rendering="crispEdges"/>
<line x1="256" y1="529.5" x2="1115" y2="343" stroke="#909090" stroke-width="1" shape-rendering="crispEdges"/>
<line x1="7" y1="515.5" x2="1115" y2="515.5" stroke="#149090" stroke-width="1" stroke-dasharray="17 8" shape-rendering="crispEdges"/>
<g shape-rendering="crispEdges">
<rect x="11" y="256" width="1" height="27" fill="#000"/>
<rect x="9.5" y="261.5" width="3" height="21" fill="#4a4a4a" stroke="#000" stroke-width="1"/>
<rect x="17" y="276" width="1" height="47" fill="#000"/>
<rect x="15.5" y="286.5" width="3" height="2" fill="#4a4a4a" stroke="#000" stroke-width="1"/>
<rect x="23" y="284" width="1" height="39" fill="#000"/>
<rect x="21.5" y="288.5" width="3" height="22" fill="#4a4a4a" stroke="#000" stroke-width="1"/>
<rect x="28" y="298" width="1" height="30" fill="#000"/>
<rect x="27.5" y="301.5" width="3" height="9" fill="#fff" stroke="#000" stroke-width="1"/>
<rect x="34" y="300" width="1" height="25" fill="#000"/>
<rect x="32.5" y="303.5" width="4" height="12" fill="#4a4a4a" stroke="#000" stroke-width="1"/>
<rect x="40" y="301" width="1" height="22" fill="#000"/>
<rect x="38.5" y="301.5" width="4" height="11" fill="#fff" stroke="#000" stroke-width="1"/>
<rect x="46" y="289" width="1" height="26" fill="#000"/>
<rect x="44.5" y="301.5" width="3" height="5" fill="#4a4a4a" stroke="#000" stroke-width="1"/>
<rect x="52" y="279" width="1" height="29" fill="#000"/>
<rect x="50.5" y="281.5" width="3" height="26" fill="#fff" stroke="#000" stroke-width="1"/>
<rect x="58" y="256" width="1" height="22" fill="#000"/>
<rect x="56.5" y="269.5" width="3" height="8" fill="#fff" stroke="#000" stroke-width="1"/>
<rect x="63" y="251" width="1" height="17" fill="#000"/>
<rect x="61.5" y="254.5" width="4" height="13" fill="#fff" stroke="#000" stroke-width="1"/>
<rect x="69" y="231" width="1" height="20" fill="#000"/>
<rect x="67.5" y="243.5" width="4" height="7" fill="#fff" stroke="#000" stroke-width="1"/>
<rect x="75" y="227" width="1" height="25" fill="#000"/>
<rect x="73.5" y="243.5" width="3" height="7" fill="#4a4a4a" stroke="#000" stroke-width="1"/>
<rect x="81" y="244" width="1" height="17" fill="#000"/>
<rect x="79.5" y="248.5" width="3" height="7" fill="#4a4a4a" stroke="#000" stroke-width="1"/>
<rect x="87" y="256" width="1" height="37" fill="#000"/>
<rect x="85.5" y="258.5" width="3" height="34" fill="#4a4a4a" stroke="#000" stroke-width="1"/>
<rect x="92" y="283" width="1" height="20" fill="#000"/>
<rect x="90.5" y="291.5" width="4" height="4" fill="#fff" stroke="#000" stroke-width="1"/>
<rect x="98" y="288" width="1" height="25" fill="#000"/>
<rect x="96.5" y="291.5" width="4" height="19" fill="#4a4a4a" stroke="#000" stroke-width="1"/>
<rect x="104" y="304" width="1" height="9" fill="#000"/>
<rect x="102.5" y="311.5" width="3" height="2" fill="#fff" stroke="#000" stroke-width="1"/>
<rect x="110" y="291" width="1" height="20" fill="#000"/>
<rect x="108.5" y="301.5" width="3" height="9" fill="#fff" stroke="#000" stroke-width="1"/>
<rect x="116" y="281" width="1" height="37" fill="#000"/>
<rect x="114.5" y="281.5" width="3" height="21" fill="#fff" stroke="#000" stroke-width="1"/>
<rect x="121" y="269" width="1" height="17" fill="#000"/>
<rect x="119.5" y="269.5" width="4" height="13" fill="#fff" stroke="#000" stroke-width="1"/>
<rect x="127" y="259" width="1" height="17" fill="#000"/>
<rect x="125" y="272" width="5" height="1" fill="#000"/>
<rect x="133" y="256" width="1" height="20" fill="#000"/>
<rect x="131.5" y="266.5" width="4" height="4" fill="#fff" stroke="#000" stroke-width="1"/>
<rect x="139" y="261" width="1" height="8" fill="#000"/>
<rect x="137" y="266" width="4" height="1" fill="#000"/>
<rect x="145" y="241" width="1" height="27" fill="#000"/>
<rect x="143.5" y="256.5" width="3" height="6" fill="#fff" stroke="#000" stroke-width="1"/>
<rect x="151" y="254" width="1" height="9" fill="#000"/>
<rect x="149.5" y="256.5" width="3" height="2" fill="#4a4a4a" stroke="#000" stroke-width="1"/>
<rect x="156" y="240" width="1" height="23" fill="#000"/>
<rect x="154.5" y="240.5" width="4" height="17" fill="#fff" stroke="#000" stroke-width="1"/>
<rect x="162" y="236" width="1" height="12" fill="#000"/>
<rect x="160" y="240" width="5" height="1" fill="#000"/>
<rect x="168" y="229" width="1" height="19" fill="#000"/>
<rect x="166.5" y="240.5" width="3" height="5" fill="#4a4a4a" stroke="#000" stroke-width="1"/>
<rect x="174" y="237" width="1" height="13" fill="#000"/>
<rect x="172.5" y="240.5" width="3" height="7" fill="#fff" stroke="#000" stroke-width="1"/>
<rect x="180" y="226" width="1" height="11" fill="#000"/>
<rect x="178.5" y="226.5" width="3" height="10" fill="#fff" stroke="#000" stroke-width="1"/>
<rect x="185" y="224" width="1" height="11" fill="#000"/>
<rect x="183.5" y="226.5" width="4" height="2" fill="#4a4a4a" stroke="#000" stroke-width="1"/>
<rect x="191" y="209" width="1" height="21" fill="#000"/>
<rect x="189.5" y="216.5" width="4" height="12" fill="#fff" stroke="#000" stroke-width="1"/>
<rect x="197" y="189" width="1" height="25" fill="#000"/>
<rect x="195.5" y="199.5" width="3" height="14" fill="#fff" stroke="#000" stroke-width="1"/>
<rect x="203" y="200" width="1" height="11" fill="#000"/>
<rect x="201.5" y="201.5" width="3" height="9" fill="#4a4a4a" stroke="#000" stroke-width="1"/>
<rect x="209" y="207" width="1" height="21" fill="#000"/>
<rect x="207.5" y="214.5" width="3" height="9" fill="#4a4a4a" stroke="#000" stroke-width="1"/>
<rect x="214" y="214" width="1" height="22" fill="#000"/>
<rect x="212" y="226" width="5" height="1" fill="#000"/>
<rect x="226" y="251" width="1" height="1" fill="#000"/>
<rect x="224" y="251" width="5" height="1" fill="#000"/>
<rect x="232" y="202" width="1" height="59" fill="#000"/>
<rect x="230.5" y="206.5" width="3" height="52" fill="#4a4a4a" stroke="#000" stroke-width="1"/>
<rect x="238" y="254" width="1" height="36" fill="#000"/>
<rect x="236.5" y="256.5" width="3" height="21" fill="#4a4a4a" stroke="#000" stroke-width="1"/>
<rect x="244" y="274" width="1" height="44" fill="#000"/>
<rect x="242.5" y="276.5" width="3" height="34" fill="#4a4a4a" stroke="#000" stroke-width="1"/>
<rect x="250" y="311" width="1" height="219" fill="#000"/>
<rect x="248.5" y="313.5" width="3" height="203" fill="#4a4a4a" stroke="#000" stroke-width="1"/>
<rect x="255" y="435" width="1" height="94" fill="#000"/>
<rect x="253.5" y="456.5" width="4" height="58" fill="#fff" stroke="#000" stroke-width="1"/>
<rect x="261" y="386" width="1" height="70" fill="#000"/>
<rect x="259.5" y="398.5" width="4" height="57" fill="#fff" stroke="#000" stroke-width="1"/>
<rect x="267" y="381" width="1" height="57" fill="#000"/>
<rect x="265.5" y="398.5" width="3" height="39" fill="#4a4a4a" stroke="#000" stroke-width="1"/>
<rect x="273" y="433" width="1" height="47" fill="#000"/>
<rect x="271.5" y="437.5" width="3" height="19" fill="#4a4a4a" stroke="#000" stroke-width="1"/>
<rect x="278" y="420" width="1" height="46" fill="#000"/>
<rect x="277" y="455" width="4" height="1" fill="#000"/>
<rect x="284" y="447" width="1" height="39" fill="#000"/>
<rect x="282.5" y="456.5" width="4" height="5" fill="#4a4a4a" stroke="#000" stroke-width="1"/>
<rect x="290" y="458" width="1" height="36" fill="#000"/>
<rect x="288.5" y="458.5" width="4" height="3" fill="#fff" stroke="#000" stroke-width="1"/>
<rect x="296" y="415" width="1" height="41" fill="#000"/>
<rect x="294.5" y="450.5" width="3" height="5" fill="#fff" stroke="#000" stroke-width="1"/>
<rect x="302" y="406" width="1" height="44" fill="#000"/>
<rect x="300.5" y="438.5" width="3" height="11" fill="#fff" stroke="#000" stroke-width="1"/>
<rect x="308" y="398" width="1" height="59" fill="#000"/>
<rect x="306.5" y="400.5" width="3" height="36" fill="#fff" stroke="#000" stroke-width="1"/>
<rect x="313" y="398" width="1" height="58" fill="#000"/>
<rect x="311.5" y="403.5" width="4" height="29" fill="#4a4a4a" stroke="#000" stroke-width="1"/>
<rect x="319" y="356" width="1" height="79" fill="#000"/>
<rect x="317.5" y="358.5" width="4" height="76" fill="#fff" stroke="#000" stroke-width="1"/>
<rect x="325" y="343" width="1" height="43" fill="#000"/>
<rect x="323.5" y="360.5" width="3" height="22" fill="#4a4a4a" stroke="#000" stroke-width="1"/>
<rect x="331" y="373" width="1" height="25" fill="#000"/>
<rect x="329.5" y="380.5" width="3" height="3" fill="#fff" stroke="#000" stroke-width="1"/>
<rect x="337" y="378" width="1" height="38" fill="#000"/>
<rect x="335.5" y="380.5" width="3" height="27" fill="#4a4a4a" stroke="#000" stroke-width="1"/>
<rect x="342" y="390" width="1" height="28" fill="#000"/>
<rect x="340.5" y="395.5" width="4" height="12" fill="#fff" stroke="#000" stroke-width="1"/>
<rect x="348" y="373" width="1" height="36" fill="#000"/>
<rect x="346.5" y="393.5" width="4" height="2" fill="#fff" stroke="#000" stroke-width="1"/>
<rect x="354" y="356" width="1" height="38" fill="#000"/>
<rect x="352.5" y="363.5" width="4" height="30" fill="#fff" stroke="#000" stroke-width="1"/>
<rect x="360" y="353" width="1" height="40" fill="#000"/>
<rect x="358.5" y="360.5" width="3" height="30" fill="#4a4a4a" stroke="#000" stroke-width="1"/>
<rect x="366" y="336" width="1" height="57" fill="#000"/>
<rect x="364.5" y="350.5" width="3" height="40" fill="#fff" stroke="#000" stroke-width="1"/>
<rect x="371" y="326" width="1" height="28" fill="#000"/>
<rect x="370.5" y="351.5" width="3" height="2" fill="#4a4a4a" stroke="#000" stroke-width="1"/>
<rect x="377" y="341" width="1" height="25" fill="#000"/>
<rect x="375.5" y="346.5" width="4" height="7" fill="#fff" stroke="#000" stroke-width="1"/>
<rect x="401" y="311" width="1" height="13" fill="#000"/>
<rect x="399.5" y="317.5" width="3" height="6" fill="#fff" stroke="#000" stroke-width="1"/>
<rect x="407" y="316" width="1" height="15" fill="#000"/>
<rect x="405.5" y="316.5" width="3" height="2" fill="#fff" stroke="#000" stroke-width="1"/>
<rect x="412" y="301" width="1" height="25" fill="#000"/>
<rect x="410.5" y="312.5" width="4" height="5" fill="#fff" stroke="#000" stroke-width="1"/>
<rect x="383" y="293" width="1" height="56" fill="#000"/>
<rect x="381.5" y="296.5" width="4" height="52" fill="#fff" stroke="#000" stroke-width="1"/>
<rect x="389" y="291" width="1" height="22" fill="#000"/>
<rect x="387.5" y="296.5" width="4" height="9" fill="#4a4a4a" stroke="#000" stroke-width="1"/>
<rect x="395" y="302" width="1" height="29" fill="#000"/>
<rect x="393.5" y="306.5" width="3" height="18" fill="#4a4a4a" stroke="#000" stroke-width="1"/>
<rect x="418" y="286" width="1" height="29" fill="#000"/>
<rect x="416.5" y="291.5" width="4" height="19" fill="#fff" stroke="#000" stroke-width="1"/>
<rect x="424" y="281" width="1" height="40" fill="#000"/>
<rect x="422.5" y="291.5" width="3" height="29" fill="#4a4a4a" stroke="#000" stroke-width="1"/>
<rect x="430" y="293" width="1" height="28" fill="#000"/>
<rect x="428.5" y="293.5" width="3" height="27" fill="#fff" stroke="#000" stroke-width="1"/>
<rect x="436" y="288" width="1" height="16" fill="#000"/>
<rect x="434.5" y="291.5" width="3" height="9" fill="#4a4a4a" stroke="#000" stroke-width="1"/>
<rect x="441" y="296" width="1" height="15" fill="#000"/>
<rect x="439.5" y="296.5" width="4" height="3" fill="#fff" stroke="#000" stroke-width="1"/>
<rect x="447" y="296" width="1" height="11" fill="#000"/>
<rect x="445.5" y="298.5" width="4" height="6" fill="#4a4a4a" stroke="#000" stroke-width="1"/>
<rect x="453" y="301" width="1" height="23" fill="#000"/>
<rect x="451.5" y="303.5" width="3" height="10" fill="#4a4a4a" stroke="#000" stroke-width="1"/>
<rect x="459" y="305" width="1" height="13" fill="#000"/>
<rect x="457.5" y="307.5" width="3" height="3" fill="#fff" stroke="#000" stroke-width="1"/>
<rect x="465" y="304" width="1" height="12" fill="#000"/>
<rect x="463.5" y="307.5" width="3" height="3" fill="#4a4a4a" stroke="#000" stroke-width="1"/>
<rect x="470" y="298" width="1" height="18" fill="#000"/>
<rect x="468.5" y="304.5" width="4" height="3" fill="#fff" stroke="#000" stroke-width="1"/>
<rect x="476" y="288" width="1" height="20" fill="#000"/>
<rect x="474.5" y="304.5" width="4" height="1" fill="#4a4a4a" stroke="#000" stroke-width="1"/>
<rect x="482" y="298" width="1" height="10" fill="#000"/>
<rect x="480.5" y="303.5" width="4" height="3" fill="#4a4a4a" stroke="#000" stroke-width="1"/>
<rect x="488" y="298" width="1" height="13" fill="#000"/>
<rect x="486.5" y="298.5" width="3" height="8" fill="#fff" stroke="#000" stroke-width="1"/>
<rect x="494" y="286" width="1" height="34" fill="#000"/>
<rect x="492.5" y="293.5" width="3" height="4" fill="#fff" stroke="#000" stroke-width="1"/>
<rect x="499" y="291" width="1" height="27" fill="#000"/>
<rect x="498.5" y="293.5" width="3" height="7" fill="#4a4a4a" stroke="#000" stroke-width="1"/>
<rect x="505" y="283" width="1" height="18" fill="#000"/>
<rect x="503.5" y="288.5" width="4" height="12" fill="#fff" stroke="#000" stroke-width="1"/>
<rect x="511" y="288" width="1" height="18" fill="#000"/>
<rect x="509.5" y="292.5" width="4" height="8" fill="#4a4a4a" stroke="#000" stroke-width="1"/>
<rect x="517" y="299" width="1" height="35" fill="#000"/>
<rect x="515.5" y="301.5" width="3" height="32" fill="#4a4a4a" stroke="#000" stroke-width="1"/>
<rect x="523" y="329" width="1" height="19" fill="#000"/>
<rect x="521.5" y="336.5" width="3" height="1" fill="#4a4a4a" stroke="#000" stroke-width="1"/>
<rect x="529" y="327" width="1" height="29" fill="#000"/>
<rect x="527.5" y="327.5" width="3" height="7" fill="#fff" stroke="#000" stroke-width="1"/>
<rect x="534" y="311" width="1" height="22" fill="#000"/>
<rect x="532.5" y="326.5" width="4" height="5" fill="#4a4a4a" stroke="#000" stroke-width="1"/>
<rect x="540" y="318" width="1" height="27" fill="#000"/>
<rect x="538.5" y="333.5" width="4" height="11" fill="#4a4a4a" stroke="#000" stroke-width="1"/>
<rect x="546" y="336" width="1" height="20" fill="#000"/>
<rect x="544.5" y="343.5" width="3" height="5" fill="#4a4a4a" stroke="#000" stroke-width="1"/>
<rect x="552" y="345" width="1" height="13" fill="#000"/>
<rect x="550.5" y="345.5" width="3" height="10" fill="#4a4a4a" stroke="#000" stroke-width="1"/>
<rect x="558" y="354" width="1" height="13" fill="#000"/>
<rect x="556.5" y="356.5" width="3" height="4" fill="#fff" stroke="#000" stroke-width="1"/>
<rect x="651" y="311" width="1" height="12" fill="#000"/>
<rect x="649.5" y="319.5" width="3" height="3" fill="#fff" stroke="#000" stroke-width="1"/>
<rect x="656" y="295" width="1" height="25" fill="#000"/>
<rect x="654.5" y="298.5" width="4" height="20" fill="#fff" stroke="#000" stroke-width="1"/>
<rect x="662" y="289" width="1" height="14" fill="#000"/>
<rect x="660" y="298" width="5" height="1" fill="#000"/>
<rect x="668" y="291" width="1" height="27" fill="#000"/>
<rect x="666.5" y="298.5" width="3" height="5" fill="#4a4a4a" stroke="#000" stroke-width="1"/>
<rect x="674" y="296" width="1" height="15" fill="#000"/>
<rect x="672.5" y="303.5" width="3" height="7" fill="#4a4a4a" stroke="#000" stroke-width="1"/>
<rect x="563" y="353" width="1" height="41" fill="#000"/>
<rect x="561.5" y="358.5" width="4" height="35" fill="#4a4a4a" stroke="#000" stroke-width="1"/>
<rect x="569" y="386" width="1" height="28" fill="#000"/>
<rect x="567.5" y="390.5" width="4" height="18" fill="#4a4a4a" stroke="#000" stroke-width="1"/>
<rect x="575" y="400" width="1" height="28" fill="#000"/>
<rect x="573.5" y="408.5" width="4" height="9" fill="#4a4a4a" stroke="#000" stroke-width="1"/>
<rect x="581" y="413" width="1" height="18" fill="#000"/>
<rect x="579" y="418" width="4" height="1" fill="#000"/>
<rect x="587" y="406" width="1" height="19" fill="#000"/>
<rect x="585" y="417" width="4" height="1" fill="#000"/>
<rect x="592" y="410" width="1" height="38" fill="#000"/>
<rect x="591.5" y="418.5" width="3" height="24" fill="#4a4a4a" stroke="#000" stroke-width="1"/>
<rect x="598" y="415" width="1" height="40" fill="#000"/>
<rect x="596.5" y="418.5" width="4" height="22" fill="#fff" stroke="#000" stroke-width="1"/>
<rect x="604" y="393" width="1" height="23" fill="#000"/>
<rect x="602.5" y="398.5" width="4" height="17" fill="#fff" stroke="#000" stroke-width="1"/>
<rect x="610" y="371" width="1" height="28" fill="#000"/>
<rect x="608.5" y="386.5" width="3" height="12" fill="#fff" stroke="#000" stroke-width="1"/>
<rect x="616" y="371" width="1" height="26" fill="#000"/>
<rect x="614.5" y="373.5" width="3" height="11" fill="#fff" stroke="#000" stroke-width="1"/>
<rect x="622" y="361" width="1" height="19" fill="#000"/>
<rect x="620.5" y="373.5" width="3" height="4" fill="#4a4a4a" stroke="#000" stroke-width="1"/>
<rect x="627" y="376" width="1" height="15" fill="#000"/>
<rect x="625.5" y="376.5" width="4" height="2" fill="#fff" stroke="#000" stroke-width="1"/>
<rect x="633" y="343" width="1" height="33" fill="#000"/>
<rect x="631.5" y="358.5" width="4" height="17" fill="#fff" stroke="#000" stroke-width="1"/>
<rect x="639" y="348" width="1" height="12" fill="#000"/>
<rect x="637.5" y="348.5" width="3" height="9" fill="#fff" stroke="#000" stroke-width="1"/>
<rect x="645" y="325" width="1" height="25" fill="#000"/>
<rect x="643.5" y="326.5" width="3" height="23" fill="#fff" stroke="#000" stroke-width="1"/>
<rect x="680" y="286" width="1" height="27" fill="#000"/>
<rect x="678.5" y="291.5" width="3" height="19" fill="#fff" stroke="#000" stroke-width="1"/>
<rect x="686" y="286" width="1" height="19" fill="#000"/>
<rect x="684.5" y="291.5" width="3" height="4" fill="#4a4a4a" stroke="#000" stroke-width="1"/>
<rect x="691" y="298" width="1" height="14" fill="#000"/>
<rect x="689.5" y="299.5" width="4" height="3" fill="#4a4a4a" stroke="#000" stroke-width="1"/>
<rect x="697" y="276" width="1" height="37" fill="#000"/>
<rect x="695.5" y="281.5" width="4" height="21" fill="#fff" stroke="#000" stroke-width="1"/>
<rect x="703" y="259" width="1" height="51" fill="#000"/>
<rect x="701.5" y="266.5" width="4" height="14" fill="#fff" stroke="#000" stroke-width="1"/>
<rect x="709" y="249" width="1" height="21" fill="#000"/>
<rect x="707.5" y="264.5" width="3" height="4" fill="#fff" stroke="#000" stroke-width="1"/>
<rect x="715" y="263" width="1" height="1" fill="#000"/>
<rect x="713" y="263" width="4" height="1" fill="#000"/>
<rect x="720" y="236" width="1" height="1" fill="#000"/>
<rect x="719" y="236" width="4" height="1" fill="#000"/>
<rect x="727" y="231" width="1" height="38" fill="#000"/>
<rect x="725.5" y="236.5" width="3" height="2" fill="#4a4a4a" stroke="#000" stroke-width="1"/>
<rect x="732" y="234" width="1" height="22" fill="#000"/>
<rect x="730.5" y="239.5" width="4" height="11" fill="#4a4a4a" stroke="#000" stroke-width="1"/>
<rect x="738" y="242" width="1" height="14" fill="#000"/>
<rect x="736.5" y="242.5" width="4" height="9" fill="#fff" stroke="#000" stroke-width="1"/>
<rect x="744" y="235" width="1" height="13" fill="#000"/>
<rect x="742.5" y="242.5" width="3" height="1" fill="#4a4a4a" stroke="#000" stroke-width="1"/>
<rect x="750" y="239" width="1" height="22" fill="#000"/>
<rect x="748" y="243" width="4" height="1" fill="#000"/>
<rect x="756" y="224" width="1" height="32" fill="#000"/>
<rect x="754.5" y="224.5" width="3" height="18" fill="#fff" stroke="#000" stroke-width="1"/>
<rect x="761" y="216" width="1" height="21" fill="#000"/>
<rect x="759.5" y="226.5" width="4" height="7" fill="#4a4a4a" stroke="#000" stroke-width="1"/>
<rect x="767" y="216" width="1" height="20" fill="#000"/>
<rect x="765.5" y="226.5" width="4" height="9" fill="#fff" stroke="#000" stroke-width="1"/>
<rect x="773" y="222" width="1" height="21" fill="#000"/>
<rect x="771.5" y="226.5" width="3" height="7" fill="#4a4a4a" stroke="#000" stroke-width="1"/>
<rect x="779" y="224" width="1" height="14" fill="#000"/>
<rect x="777" y="231" width="4" height="1" fill="#000"/>
<rect x="785" y="226" width="1" height="27" fill="#000"/>
<rect x="783.5" y="235.5" width="3" height="17" fill="#4a4a4a" stroke="#000" stroke-width="1"/>
<rect x="790" y="247" width="1" height="24" fill="#000"/>
<rect x="788.5" y="247.5" width="4" height="5" fill="#fff" stroke="#000" stroke-width="1"/>
<rect x="796" y="247" width="1" height="13" fill="#000"/>
<rect x="794.5" y="249.5" width="4" height="2" fill="#4a4a4a" stroke="#000" stroke-width="1"/>
<rect x="802" y="244" width="1" height="24" fill="#000"/>
<rect x="800.5" y="252.5" width="4" height="11" fill="#4a4a4a" stroke="#000" stroke-width="1"/>
<rect x="808" y="246" width="1" height="22" fill="#000"/>
<rect x="806.5" y="248.5" width="3" height="15" fill="#fff" stroke="#000" stroke-width="1"/>
<rect x="814" y="219" width="1" height="27" fill="#000"/>
<rect x="812.5" y="224.5" width="3" height="21" fill="#fff" stroke="#000" stroke-width="1"/>
<rect x="819" y="216" width="1" height="11" fill="#000"/>
<rect x="818.5" y="216.5" width="3" height="7" fill="#fff" stroke="#000" stroke-width="1"/>
<rect x="825" y="216" width="1" height="27" fill="#000"/>
<rect x="823.5" y="216.5" width="4" height="14" fill="#4a4a4a" stroke="#000" stroke-width="1"/>
<rect x="831" y="216" width="1" height="14" fill="#000"/>
<rect x="829.5" y="216.5" width="4" height="13" fill="#fff" stroke="#000" stroke-width="1"/>
<rect x="837" y="216" width="1" height="17" fill="#000"/>
<rect x="835.5" y="216.5" width="3" height="13" fill="#4a4a4a" stroke="#000" stroke-width="1"/>
<rect x="843" y="222" width="1" height="14" fill="#000"/>
<rect x="841" y="224" width="4" height="1" fill="#000"/>
<rect x="849" y="224" width="1" height="7" fill="#000"/>
<rect x="847" y="225" width="4" height="1" fill="#000"/>
<rect x="854" y="214" width="1" height="17" fill="#000"/>
<rect x="852.5" y="221.5" width="4" height="4" fill="#fff" stroke="#000" stroke-width="1"/>
<rect x="860" y="214" width="1" height="12" fill="#000"/>
<rect x="858.5" y="220.5" width="4" height="2" fill="#4a4a4a" stroke="#000" stroke-width="1"/>
<rect x="866" y="221" width="1" height="10" fill="#000"/>
<rect x="864.5" y="224.5" width="3" height="1" fill="#4a4a4a" stroke="#000" stroke-width="1"/>
<rect x="872" y="220" width="1" height="9" fill="#000"/>
<rect x="870.5" y="222.5" width="3" height="4" fill="#fff" stroke="#000" stroke-width="1"/>
<rect x="878" y="202" width="1" height="24" fill="#000"/>
<rect x="876.5" y="202.5" width="3" height="17" fill="#fff" stroke="#000" stroke-width="1"/>
<rect x="883" y="201" width="1" height="20" fill="#000"/>
<rect x="881.5" y="202.5" width="4" height="15" fill="#4a4a4a" stroke="#000" stroke-width="1"/>
<rect x="889" y="219" width="1" height="14" fill="#000"/>
<rect x="887.5" y="219.5" width="4" height="9" fill="#4a4a4a" stroke="#000" stroke-width="1"/>
<rect x="895" y="224" width="1" height="14" fill="#000"/>
<rect x="893.5" y="229.5" width="3" height="3" fill="#4a4a4a" stroke="#000" stroke-width="1"/>
<rect x="901" y="219" width="1" height="18" fill="#000"/>
<rect x="899.5" y="231.5" width="3" height="4" fill="#fff" stroke="#000" stroke-width="1"/>
<rect x="906" y="229" width="1" height="13" fill="#000"/>
<rect x="904.5" y="229.5" width="4" height="10" fill="#4a4a4a" stroke="#000" stroke-width="1"/>
<rect x="912" y="229" width="1" height="15" fill="#000"/>
<rect x="910.5" y="236.5" width="4" height="3" fill="#fff" stroke="#000" stroke-width="1"/>
<rect x="918" y="232" width="1" height="7" fill="#000"/>
<rect x="916" y="235" width="5" height="1" fill="#000"/>
<rect x="924" y="231" width="1" height="13" fill="#000"/>
<rect x="922" y="235" width="4" height="1" fill="#000"/>
<rect x="930" y="229" width="1" height="7" fill="#000"/>
<rect x="928" y="233" width="4" height="1" fill="#000"/>
<rect x="935" y="232" width="1" height="10" fill="#000"/>
<rect x="934.5" y="236.5" width="3" height="3" fill="#4a4a4a" stroke="#000" stroke-width="1"/>
<rect x="941" y="230" width="1" height="14" fill="#000"/>
<rect x="939.5" y="231.5" width="4" height="9" fill="#fff" stroke="#000" stroke-width="1"/>
<rect x="947" y="226" width="1" height="25" fill="#000"/>
<rect x="945.5" y="229.5" width="4" height="21" fill="#4a4a4a" stroke="#000" stroke-width="1"/>
<rect x="953" y="241" width="1" height="10" fill="#000"/>
<rect x="951" y="250" width="4" height="1" fill="#000"/>
<rect x="959" y="236" width="1" height="13" fill="#000"/>
<rect x="957" y="245" width="4" height="1" fill="#000"/>
<rect x="965" y="239" width="1" height="8" fill="#000"/>
<rect x="963.5" y="239.5" width="3" height="3" fill="#fff" stroke="#000" stroke-width="1"/>
<rect x="970" y="240" width="1" height="8" fill="#000"/>
<rect x="968" y="242" width="5" height="1" fill="#000"/>
<rect x="976" y="243" width="1" height="6" fill="#000"/>
<rect x="974.5" y="244.5" width="4" height="2" fill="#fff" stroke="#000" stroke-width="1"/>
<rect x="982" y="236" width="1" height="11" fill="#000"/>
<rect x="980.5" y="239.5" width="3" height="2" fill="#fff" stroke="#000" stroke-width="1"/>
<rect x="988" y="236" width="1" height="13" fill="#000"/>
<rect x="986" y="239" width="4" height="1" fill="#000"/>
<rect x="994" y="226" width="1" height="17" fill="#000"/>
<rect x="992.5" y="239.5" width="3" height="1" fill="#4a4a4a" stroke="#000" stroke-width="1"/>
<rect x="1000" y="234" width="1" height="13" fill="#000"/>
<rect x="998.5" y="235.5" width="3" height="6" fill="#fff" stroke="#000" stroke-width="1"/>
<rect x="1005" y="231" width="1" height="28" fill="#000"/>
<rect x="1003.5" y="235.5" width="4" height="15" fill="#4a4a4a" stroke="#000" stroke-width="1"/>
<rect x="1011" y="247" width="1" height="25" fill="#000"/>
<rect x="1009.5" y="249.5" width="4" height="3" fill="#fff" stroke="#000" stroke-width="1"/>
<rect x="1017" y="245" width="1" height="8" fill="#000"/>
<rect x="1015" y="247" width="5" height="1" fill="#000"/>
<rect x="1023" y="245" width="1" height="8" fill="#000"/>
<rect x="1021.5" y="247.5" width="3" height="4" fill="#4a4a4a" stroke="#000" stroke-width="1"/>
<rect x="1029" y="249" width="1" height="15" fill="#000"/>
<rect x="1027.5" y="251.5" width="3" height="6" fill="#4a4a4a" stroke="#000" stroke-width="1"/>
<rect x="1034" y="252" width="1" height="5" fill="#000"/>
<rect x="1033" y="256" width="4" height="1" fill="#000"/>
<rect x="1040" y="242" width="1" height="15" fill="#000"/>
<rect x="1038.5" y="242.5" width="4" height="14" fill="#fff" stroke="#000" stroke-width="1"/>
<rect x="1046" y="242" width="1" height="7" fill="#000"/>
<rect x="1044.5" y="242.5" width="4" height="4" fill="#4a4a4a" stroke="#000" stroke-width="1"/>
<rect x="1052" y="243" width="1" height="7" fill="#000"/>
<rect x="1050.5" y="243.5" width="3" height="3" fill="#4a4a4a" stroke="#000" stroke-width="1"/>
<rect x="1058" y="243" width="1" height="4" fill="#000"/>
<rect x="1056" y="243" width="4" height="1" fill="#000"/>
<rect x="1064" y="232" width="1" height="11" fill="#000"/>
<rect x="1062.5" y="239.5" width="3" height="2" fill="#fff" stroke="#000" stroke-width="1"/>
<rect x="1069" y="237" width="1" height="15" fill="#000"/>
<rect x="1067.5" y="239.5" width="4" height="7" fill="#4a4a4a" stroke="#000" stroke-width="1"/>
<rect x="1075" y="242" width="1" height="10" fill="#000"/>
<rect x="1073.5" y="246.5" width="4" height="4" fill="#4a4a4a" stroke="#000" stroke-width="1"/>
<rect x="1081" y="249" width="1" height="8" fill="#000"/>
<rect x="1079" y="251" width="4" height="1" fill="#000"/>
<rect x="1087" y="247" width="1" height="32" fill="#000"/>
<rect x="1085.5" y="254.5" width="3" height="8" fill="#4a4a4a" stroke="#000" stroke-width="1"/>
<rect x="1093" y="251" width="1" height="53" fill="#000"/>
<rect x="1091.5" y="263.5" width="3" height="38" fill="#4a4a4a" stroke="#000" stroke-width="1"/>
<rect x="1098" y="296" width="1" height="25" fill="#000"/>
<rect x="1096.5" y="301.5" width="4" height="2" fill="#fff" stroke="#000" stroke-width="1"/>
<rect x="1104" y="288" width="1" height="18" fill="#000"/>
<rect x="1102.5" y="293.5" width="4" height="8" fill="#fff" stroke="#000" stroke-width="1"/>
<rect x="1110" y="281" width="1" height="21" fill="#000"/>
<rect x="1108.5" y="283.5" width="3" height="9" fill="#fff" stroke="#000" stroke-width="1"/>
<rect x="1116" y="281" width="1" height="13" fill="#000"/>
<rect x="1114.5" y="283.5" width="3" height="6" fill="#fff" stroke="#000" stroke-width="1"/>
</g>
<polyline points="8.0,229.1 22.6,231.1 40.1,233.7 57.5,235.5 74.9,236.7 92.4,238.1 109.8,240.1 127.3,242.1 144.7,243.5 162.1,243.7 179.6,243.1 197.0,242.1 214.4,241.7 226.1,242.1 231.9,243.1 237.0,245.1 245.0,248.1 255.1,253.1 269.1,258.6 285.1,266.2 301.2,274.2 315.2,281.2 335.2,288.2 355.3,296.2 375.3,301.8 395.3,308.3 415.4,313.9 435.4,316.3 457.1,317.3 470.0,317.1 476.1,317.1 500.1,318.1 516.1,320.5 530.2,321.7 544.2,323.1 558.2,326.2 570.2,329.2 582.3,333.2 594.3,338.2 606.3,342.6 618.3,346.6 630.4,351.2 642.4,354.6 654.4,357.2 666.4,358.8 674.4,359.2 682.1,358.2 685.0,357.3 705.1,349.3 725.1,340.1 745.1,331.3 765.2,323.3 785.2,316.3 805.3,310.2 825.3,305.8 845.3,301.8 865.4,298.2 885.4,294.8 890.0,294.6 910.0,291.2 930.1,287.8 950.1,284.6 970.2,281.2 986.2,277.2 1002.2,272.2 1018.3,265.8 1034.3,259.1 1050.3,253.7 1066.4,249.7 1078.4,247.1 1090.4,246.5 1102.4,246.1 1115.5,245.1" fill="none" stroke="#008000" stroke-width="1" shape-rendering="crispEdges"/>
<polyline points="8.0,238.1 40.1,239.7 74.9,241.3 109.8,242.5 144.7,243.3 179.6,243.3 214.4,242.7 231.9,242.7 234.0,243.1 243.0,245.1 247.0,254.1 251.1,264.2 255.1,272.2 265.1,279.2 277.1,286.2 293.1,293.2 313.2,299.2 337.2,303.8 361.3,306.7 385.3,307.5 457.1,307.5 450.0,307.7 548.2,307.7 552.2,308.5 570.2,310.7 590.3,312.7 606.3,314.1 622.3,314.9 682.1,315.3 675.0,315.7 718.1,314.6 721.5,310.2 723.1,286.2 725.1,254.1 726.7,248.1 755.2,246.1 761.2,243.1 767.2,240.5 803.3,243.7 813.3,242.5 841.3,240.1 875.4,237.7 907.1,236.1 910.0,236.7 944.1,237.1 1010.2,238.1 1070.4,238.5 1078.4,239.5 1084.4,238.7 1090.4,240.1 1098.4,246.1 1106.4,248.5 1115.5,249.7" fill="none" stroke="#ff00ff" stroke-width="1" shape-rendering="crispEdges"/>
<polyline points="8.0,218.1 16.8,223.1 22.6,227.1 28.5,231.7 34.3,235.1 40.1,238.5 45.9,241.7 51.7,244.1 57.5,246.1 63.3,247.7 69.1,249.1 74.9,250.5 80.8,252.5 86.6,255.8 92.4,260.2 98.2,265.2 104.0,269.8 109.8,273.8 115.6,276.6 121.4,278.6 127.3,280.2 133.1,281.4 150.5,281.4 156.3,279.8 162.1,277.8 167.9,275.8 173.7,273.2 179.6,269.8 185.4,266.2 191.2,262.6 197.0,259.2 202.8,257.2 208.6,255.8 214.4,254.7 220.2,254.3 226.1,254.1 231.9,254.1 237.0,253.7 244.0,253.7 246.0,257.2 255.1,267.8 265.1,279.2 271.1,285.8 285.1,303.2 293.1,313.3 295.1,316.0 305.2,330.1 315.2,341.1 325.2,350.1 335.2,362.1 345.2,374.1 355.3,385.2 365.3,395.2 372.3,400.2 378.3,403.6 389.3,403.6 395.3,396.2 401.4,390.6 407.4,386.6 413.4,382.2 419.4,375.2 425.4,368.1 433.4,359.1 441.4,351.7 449.4,345.1 450.0,343.2 460.0,336.2 470.0,331.2 480.1,325.2 490.1,319.1 500.1,313.1 508.1,309.1 516.1,307.7 524.1,307.7 534.2,309.1 544.2,311.1 554.2,314.1 564.2,319.1 574.2,326.2 584.3,334.2 594.3,343.2 604.3,350.2 614.3,356.2 624.3,361.8 634.4,365.2 642.4,367.8 650.4,368.6 658.4,368.2 666.4,366.6 674.4,365.2 682.1,363.8 684.0,362.3 692.4,356.5 701.1,350.7 710.1,344.3 717.1,339.3 727.1,329.3 739.1,314.2 751.2,300.2 763.2,286.2 775.2,274.2 785.2,267.2 795.2,262.1 805.3,259.1 815.3,253.1 825.3,247.1 835.3,242.5 845.3,239.1 855.4,236.5 865.4,234.5 875.4,232.5 883.4,231.1 891.4,230.7 894.0,230.7 910.0,231.7 930.1,231.1 946.1,229.5 958.1,230.1 970.2,231.7 982.2,233.1 994.2,234.5 1006.2,235.7 1018.3,238.1 1030.3,241.1 1042.3,242.5 1054.3,243.1 1066.4,244.1 1078.4,245.1 1088.4,247.7 1098.4,251.1 1106.4,253.7 1115.5,256.5" fill="none" stroke="#0000ff" stroke-width="1" shape-rendering="crispEdges"/>
<polyline points="8.0,250.1 11.0,257.2 16.8,270.2 22.6,284.2 28.5,295.2 34.3,302.2 40.1,305.3 45.9,307.3 51.7,300.2 57.5,288.2 63.3,274.2 69.1,263.2 74.9,257.2 80.8,255.2 86.6,259.2 92.4,270.2 98.2,284.2 104.0,296.2 109.8,301.2 115.6,300.2 121.4,294.2 127.3,286.2 133.1,278.2 138.9,270.2 144.7,266.2 150.5,263.2 156.3,257.2 162.1,251.1 167.9,247.1 173.7,243.1 179.6,238.1 185.4,234.1 191.2,229.1 197.0,221.1 202.8,217.1 208.6,215.7 214.4,215.7 220.2,218.1 226.1,225.1 228.0,231.1 231.0,238.1 237.0,248.1 242.0,260.2 245.0,276.2 246.6,292.2 247.0,300.0 250.1,320.0 253.1,340.1 257.1,366.1 261.1,390.2 265.1,412.2 268.1,430.3 266.5,424.0 269.1,434.0 272.1,450.1 274.1,452.1 277.1,443.0 281.1,441.0 285.1,444.0 289.1,452.1 293.1,456.1 297.1,456.5 302.2,452.1 307.2,443.0 313.2,434.0 317.2,424.0 319.2,418.2 325.2,404.2 330.8,392.2 334.2,391.2 339.2,388.2 342.4,385.2 347.2,392.2 351.3,389.8 356.3,387.8 360.3,389.2 365.3,380.2 371.3,370.1 377.3,358.1 383.3,344.1 389.3,330.1 395.3,324.0 401.4,317.0 406.4,312.0 412.4,313.0 418.4,313.0 423.4,311.6 429.4,308.0 435.4,304.0 441.4,301.0 447.4,303.0 453.5,304.0 450.0,302.5 456.0,304.1 462.0,306.1 470.0,308.1 476.1,308.1 482.1,307.1 488.1,305.1 494.1,301.7 500.1,301.1 506.1,297.7 511.1,296.5 516.1,302.5 520.1,309.1 525.2,314.1 530.2,320.1 534.2,325.2 540.2,332.2 546.2,338.2 552.2,343.2 558.2,350.2 564.2,360.2 569.2,372.2 574.2,385.3 578.3,392.1 584.3,405.2 590.3,416.2 595.3,421.8 600.3,422.2 606.3,417.2 612.3,409.2 618.3,398.1 624.3,387.1 630.4,378.1 636.4,370.1 642.4,360.1 648.4,350.0 652.4,342.0 656.4,332.0 658.4,325.2 662.4,317.1 666.4,310.1 672.4,305.1 678.5,301.1 675.0,304.2 681.0,300.2 687.0,300.2 692.0,299.8 697.0,296.2 703.1,286.2 709.1,281.2 715.1,276.2 720.1,264.1 725.1,254.1 730.1,249.1 735.1,249.1 739.1,246.1 744.1,243.1 750.2,243.7 755.2,243.1 761.2,238.1 767.2,233.1 773.2,232.1 778.2,231.1 784.2,236.1 790.2,241.1 796.2,246.1 802.3,250.1 807.3,252.7 813.3,246.1 819.3,241.1 825.3,235.1 831.3,228.1 835.3,224.5 841.3,224.5 847.3,225.7 853.4,225.1 859.4,225.1 865.4,225.7 871.4,223.1 877.4,220.1 883.4,218.1 889.4,219.7 895.4,221.1 901.5,222.1 906.0,230.1 912.0,235.1 924.1,235.7 936.1,236.5 944.1,237.1 950.1,240.1 958.1,243.7 970.2,243.7 976.2,244.1 984.2,241.7 996.2,241.7 1004.2,240.5 1010.2,243.1 1018.3,245.1 1024.3,248.1 1030.3,251.7 1036.3,252.1 1042.3,251.1 1050.3,249.7 1058.3,246.1 1064.3,244.1 1070.4,245.1 1076.4,247.1 1082.4,248.1 1088.4,256.1 1094.4,268.2 1100.4,278.2 1106.4,285.2 1112.4,291.2 1115.5,293.2" fill="none" stroke="#ff0000" stroke-width="1" shape-rendering="crispEdges"/>
</g>
<g clip-path="url(#c2)">
<polyline points="7.6,629.1 15.5,631.5 22.5,639.5 34.5,640.2 44.9,640.2 55.3,630.5" fill="none" stroke="#6495ed" stroke-width="1" shape-rendering="crispEdges"/>
<polyline points="203.8,603.9 210.7,608.4 219.3,608.4 228.0,619.4 234.9,622.9 241.8,631.5 249.4,642.9 255.6,636.7 260.8,631.5 269.4,634.0 279.8,636.7 293.6,635.0 304.0,632.6 309.2,629.1 314.3,629.8 319.5,624.6 326.4,622.2 330.9,608.4 336.8,614.3 342.0,618.8 348.9,614.3 354.1,609.1 359.2,612.5 366.1,609.1 376.5,609.1 380.0,607.7 386.9,610.1 393.8,609.4 400.7,614.6 407.6,610.1 412.8,610.1 418.0,604.2 424.2,610.1 430.1,608.4 435.3,611.8 441.5,606.6 449.1,612.8 458.8,613.5 464.6,622.2 471.5,618.7 476.7,615.3 483.6,616.3 492.3,615.3 499.2,622.2 505.0,611.1 511.3,622.2 518.2,629.1 523.4,630.1 530.3,623.9 535.4,624.6 542.3,629.8 547.5,630.1 552.7,633.2 557.9,633.6 564.8,638.8 571.7,642.9 578.6,642.2 585.5,647.0 591.4,647.0 597.6,637.7 603.8,631.5 608.0,631.5 614.9,627.4 621.8,625.6 627.0,624.9 633.9,619.4 639.1,617.0 646.0,606.6 652.9,600.8 656.3,598.7 666.7,598.7 668.4,599.7 673.6,594.5 680.5,594.5 690.9,600.4 696.1,600.4 703.0,597.0 711.6,597.0 715.1,598.0 723.7,598.0 730.6,604.2 737.5,605.9 747.9,605.9 755.8,600.8 760.0,605.7 766.9,603.3 773.8,604.0 784.1,615.7 789.2,615.0 794.4,616.0 802.3,626.3 813.3,613.3 818.4,614.0 825.3,616.7 830.5,614.3 837.3,620.2 842.5,618.4 847.7,619.5 854.5,617.1 859.7,617.1 866.6,612.6 870.7,613.3 878.6,608.1 883.8,609.8 895.8,622.6 900.9,622.9 906.1,622.2 913.0,626.0 918.1,621.9 928.4,622.9 935.3,625.3 941.5,622.6 947.3,627.4 952.5,628.1 958.7,634.9 964.5,627.0 973.1,625.3 983.4,622.9 988.6,620.2 993.8,622.9 998.9,620.8 1005.8,625.3 1012.7,625.3 1017.8,622.9 1023.0,627.0 1031.6,623.6 1035.0,623.6 1040.2,617.8 1045.3,621.9 1052.2,621.2 1060.8,619.5 1069.4,622.6 1076.3,624.3 1081.4,627.0 1086.6,626.0 1095.2,636.3 1100.3,636.3 1107.2,632.2 1112.4,628.1 1115.1,629.8" fill="none" stroke="#6495ed" stroke-width="1" shape-rendering="crispEdges"/>
</g>
<g clip-path="url(#c3)">
<polyline points="7.6,702.3 17.3,705.8 27.6,708.2 38.0,711.7 51.8,716.2 69.1,715.5 86.4,713.4 107.1,711.0 120.9,706.5 131.3,700.6 138.2,693.7 148.5,681.6 157.2,675.8 172.7,673.0 190.0,671.3 203.8,669.5 214.2,666.1 222.8,663.7 229.7,664.4 238.3,669.5 248.7,681.6 262.5,697.2 276.3,707.5 293.6,714.4 307.4,717.2 317.8,716.9 331.6,712.7 345.4,706.5 359.2,697.2 373.1,685.1 380.0,680.2 386.9,670.5 393.8,663.6 414.5,661.2 424.9,662.2 442.2,662.2 459.4,664.7 476.7,667.8 494.0,670.5 511.3,672.3 518.2,680.9 528.5,691.3 535.4,694.0 542.3,698.2 552.7,706.8 564.8,713.7 573.4,714.4 583.8,717.9 594.2,718.9 604.5,720.6 621.8,720.6 628.7,718.9 639.1,715.4 646.0,709.2 656.3,698.2 666.7,687.1 677.1,679.2 690.9,669.8 701.2,663.6 711.6,660.9 725.4,660.2 756.5,660.2 760.0,660.7 780.6,661.8 794.4,665.9 806.4,670.7 821.9,670.7 842.5,672.4 863.1,674.1 876.9,672.4 885.5,672.4 897.5,678.6 904.4,679.6 913.0,683.1 919.8,683.8 928.4,687.9 938.8,694.8 949.1,706.1 959.4,716.4 966.3,718.1 974.9,719.5 993.8,719.5 1000.6,717.4 1014.4,716.8 1035.0,716.4 1041.9,713.7 1052.2,711.9 1059.1,710.2 1069.4,705.1 1090.0,704.4 1098.6,709.5 1105.5,713.7 1110.6,715.4 1115.1,715.4" fill="none" stroke="#008000" stroke-width="1" shape-rendering="crispEdges"/>
<polyline points="7.6,721.3 17.3,722.4 27.6,724.8 34.5,724.8 44.9,722.0 51.8,716.2 58.7,705.8 65.6,688.5 72.5,674.7 79.4,667.1 84.6,667.1 89.8,671.3 96.7,681.6 103.6,697.2 110.5,709.3 115.7,712.0 122.6,709.9 129.5,707.5 138.2,692.0 145.1,674.7 149.2,663.7 155.4,660.9 165.8,660.2 179.6,660.9 203.8,661.6 210.7,663.7 217.6,667.1 224.5,676.4 231.4,692.0 238.3,705.8 245.3,714.4 253.9,722.4 262.5,723.1 276.3,720.3 286.7,717.9 293.6,712.7 300.5,702.3 307.4,690.3 312.6,679.9 317.8,679.2 323.0,676.4 329.9,665.0 336.8,664.4 345.4,666.1 354.1,669.5 361.0,673.0 371.3,673.0 380.0,672.3 386.9,669.8 393.8,662.9 402.5,662.6 411.1,665.4 416.3,665.4 423.2,669.8 431.8,671.2 438.7,675.0 447.4,681.6 454.3,678.1 459.4,677.4 468.1,687.1 476.7,696.4 481.9,702.3 487.1,693.0 492.3,692.3 497.4,686.1 504.4,675.7 510.6,666.4 518.2,680.9 525.1,693.0 533.7,705.1 542.3,713.7 552.7,719.6 566.5,722.3 580.3,723.4 590.7,723.4 601.1,719.6 608.0,712.0 614.9,699.9 621.8,684.4 628.7,670.5 635.6,663.6 646.0,660.9 656.3,660.2 666.7,660.2 673.6,661.9 684.0,662.2 694.3,664.7 711.6,664.7 725.4,662.6 735.8,662.6 749.6,666.0 760.0,666.6 770.3,667.6 777.2,670.0 784.1,683.8 794.4,694.8 803.0,708.5 808.1,711.9 816.7,697.5 825.3,687.2 837.3,672.4 845.9,670.7 852.8,670.7 861.4,674.5 870.0,683.1 878.6,683.8 888.9,681.0 895.8,696.5 900.9,698.5 911.3,711.3 918.1,715.7 925.0,717.4 937.0,717.4 942.2,711.3 966.3,710.6 971.4,709.5 978.3,711.3 983.4,708.5 993.8,697.5 1000.6,685.5 1005.8,688.9 1010.9,685.5 1021.3,706.1 1028.1,714.0 1035.0,716.4 1040.2,711.3 1047.0,710.2 1053.9,703.7 1062.5,687.2 1070.4,672.4 1079.7,683.8 1090.0,695.8 1098.6,709.5 1105.5,718.8 1115.1,719.8" fill="none" stroke="#ff1493" stroke-width="1" shape-rendering="crispEdges"/>
</g>
<rect x="55" y="416" width="149" height="232" fill="#000" />
<rect x="56" y="417" width="147" height="230" fill="#d0e0ff" />
<text transform="translate(90.2,427) scale(0.83,1)" x="3.67 11.02 18.37 25.72 33.07 40.42 47.77 55.12 62.47 69.82 77.17 84.52 91.87 99.22 106.57 113.92 121.27 128.61" y="0" fill="#000" font-size="12" font-weight="normal" text-anchor="middle">2025/12/17 9:05:00</text>
<text x="63 75" y="440.5" fill="#000" font-size="12" text-anchor="middle">始値</text>
<text transform="translate(169.5,440.5) scale(0.83,1)" x="3.67 11.02 18.37 25.72 33.07" y="0" fill="#000" font-size="12" font-weight="normal" text-anchor="middle">49150</text>
<text x="63 75" y="454" fill="#000" font-size="12" text-anchor="middle">高値</text>
<text transform="translate(169.5,454) scale(0.83,1)" x="3.67 11.02 18.37 25.72 33.07" y="0" fill="#000" font-size="12" font-weight="normal" text-anchor="middle">49310</text>
<text x="63 75" y="467.5" fill="#000" font-size="12" text-anchor="middle">安値</text>
<text transform="translate(169.5,467.5) scale(0.83,1)" x="3.67 11.02 18.37 25.72 33.07" y="0" fill="#000" font-size="12" font-weight="normal" text-anchor="middle">49120</text>
<text x="63 75" y="481" fill="#000" font-size="12" text-anchor="middle">終値</text>
<text transform="translate(169.5,481) scale(0.83,1)" x="3.67 11.02 18.37 25.72 33.07" y="0" fill="#000" font-size="12" font-weight="normal" text-anchor="middle">49270</text>
<text transform="translate(57,494.5) scale(0.86,1)" x="3.49 10.47 17.44 24.42" y="0" fill="#ff00ff" font-size="12" font-weight="normal" text-anchor="middle">Vwap</text>
<text transform="translate(151.2,494.5) scale(0.83,1)" x="3.67 11.02 18.37 25.72 33.07 40.42 47.77 55.12" y="0" fill="#000" font-size="12" font-weight="normal" text-anchor="middle">49638.50</text>
<text transform="translate(57,508) scale(0.86,1)" x="3.49 10.47 17.44" y="0" fill="#6a98e8" font-size="12" font-weight="normal" text-anchor="middle">RSI</text>
<text transform="translate(169.5,508) scale(0.83,1)" x="3.67 11.02 18.37 25.72 33.07" y="0" fill="#000" font-size="12" font-weight="normal" text-anchor="middle">24.56</text>
<text transform="translate(57,521.5) scale(0.86,1)" x="3.49 10.47 17.44 24.42" y="0" fill="#ff1480" font-size="12" font-weight="normal" text-anchor="middle">RCI1</text>
<text transform="translate(163.4,521.5) scale(0.83,1)" x="3.67 11.02 18.37 25.72 33.07 40.42" y="0" fill="#000" font-size="12" font-weight="normal" text-anchor="middle">-96.68</text>
<text transform="translate(57,535) scale(0.86,1)" x="3.49 10.47 17.44 24.42" y="0" fill="#0a820a" font-size="12" font-weight="normal" text-anchor="middle">RCI2</text>
<text transform="translate(175.6,535) scale(0.83,1)" x="3.67 11.02 18.37 25.72" y="0" fill="#000" font-size="12" font-weight="normal" text-anchor="middle">7.97</text>
<text x="63 75" y="548.5" fill="#ff0000" font-size="12" text-anchor="middle">平均</text>
<text transform="translate(81,548.5) scale(0.86,1)" x="3.49" y="0" fill="#ff0000" font-size="12" font-weight="normal" text-anchor="middle">1</text>
<text transform="translate(151.2,548.5) scale(0.83,1)" x="3.67 11.02 18.37 25.72 33.07 40.42 47.77 55.12" y="0" fill="#000" font-size="12" font-weight="normal" text-anchor="middle">49453.00</text>
<text x="63 75" y="562" fill="#1060ff" font-size="12" text-anchor="middle">平均</text>
<text transform="translate(81,562) scale(0.86,1)" x="3.49" y="0" fill="#1060ff" font-size="12" font-weight="normal" text-anchor="middle">2</text>
<text transform="translate(151.2,562) scale(0.83,1)" x="3.67 11.02 18.37 25.72 33.07 40.42 47.77 55.12" y="0" fill="#000" font-size="12" font-weight="normal" text-anchor="middle">49649.40</text>
<text x="63 75" y="575.5" fill="#0a820a" font-size="12" text-anchor="middle">平均</text>
<text transform="translate(81,575.5) scale(0.86,1)" x="3.49" y="0" fill="#0a820a" font-size="12" font-weight="normal" text-anchor="middle">3</text>
<text transform="translate(151.2,575.5) scale(0.83,1)" x="3.67 11.02 18.37 25.72 33.07 40.42 47.77 55.12" y="0" fill="#000" font-size="12" font-weight="normal" text-anchor="middle">49675.00</text>
<text x="63 75 87 99" y="589" fill="#b0b0b0" font-size="12" text-anchor="middle">標準偏差</text>
<text transform="translate(105,589) scale(0.86,1)" x="3.49 10.47" y="0" fill="#b0b0b0" font-size="12" font-weight="normal" text-anchor="middle">+2</text>
<text transform="translate(151.2,589) scale(0.83,1)" x="3.67 11.02 18.37 25.72 33.07 40.42 47.77 55.12" y="0" fill="#000" font-size="12" font-weight="normal" text-anchor="middle">49930.53</text>
<text x="63 75 87 99" y="602.5" fill="#b0b0b0" font-size="12" text-anchor="middle">標準偏差</text>
<text transform="translate(105,602.5) scale(0.86,1)" x="3.49 10.47" y="0" fill="#b0b0b0" font-size="12" font-weight="normal" text-anchor="middle">+1</text>
<text transform="translate(151.2,602.5) scale(0.83,1)" x="3.67 11.02 18.37 25.72 33.07 40.42 47.77 55.12" y="0" fill="#000" font-size="12" font-weight="normal" text-anchor="middle">49789.97</text>
<text x="63 75 87 99 111" y="616" fill="#0000d0" font-size="12" text-anchor="middle">移動平均線</text>
<text transform="translate(151.2,616) scale(0.83,1)" x="3.67 11.02 18.37 25.72 33.07 40.42 47.77 55.12" y="0" fill="#000" font-size="12" font-weight="normal" text-anchor="middle">49649.40</text>
<text x="63 75 87 99" y="629.5" fill="#b0b0b0" font-size="12" text-anchor="middle">標準偏差</text>
<text transform="translate(105,629.5) scale(0.86,1)" x="3.49 10.47" y="0" fill="#b0b0b0" font-size="12" font-weight="normal" text-anchor="middle">-1</text>
<text transform="translate(151.2,629.5) scale(0.83,1)" x="3.67 11.02 18.37 25.72 33.07 40.42 47.77 55.12" y="0" fill="#000" font-size="12" font-weight="normal" text-anchor="middle">49508.83</text>
<text x="63 75 87 99" y="643" fill="#b0b0b0" font-size="12" text-anchor="middle">標準偏差</text>
<text transform="translate(105,643) scale(0.86,1)" x="3.49 10.47" y="0" fill="#b0b0b0" font-size="12" font-weight="normal" text-anchor="middle">-2</text>
<text transform="translate(151.2,643) scale(0.83,1)" x="3.67 11.02 18.37 25.72 33.07 40.42 47.77 55.12" y="0" fill="#000" font-size="12" font-weight="normal" text-anchor="middle">49368.27</text>
</svg>
</body></html>
